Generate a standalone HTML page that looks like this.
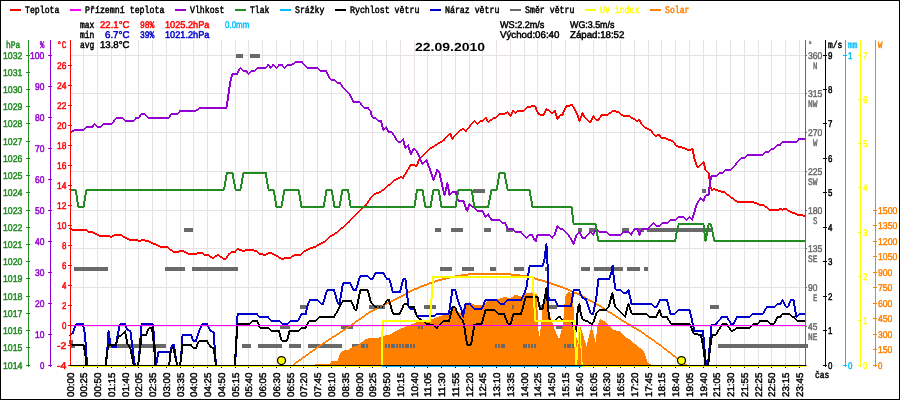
<!DOCTYPE html>
<html lang="cs"><head><meta charset="utf-8"><title>Meteo 22.09.2010</title>
<style>
html,body{margin:0;padding:0;background:#fff;}
body{width:900px;height:400px;overflow:hidden;font-family:"Liberation Mono",monospace;}
svg{display:block;will-change:transform;}
text{font-family:"Liberation Mono",monospace;text-rendering:geometricPrecision;}
.t{font-size:10px;font-weight:normal;stroke-width:0.5px;}
.g{font-size:10px;font-weight:normal;stroke-width:0.45px;}
.d{font-size:11.7px;font-weight:bold;}
.x{font-family:"Liberation Sans",sans-serif;font-size:9.6px;font-weight:normal;stroke:#000;stroke-width:0.45px;}
.s{font-family:"Liberation Sans",sans-serif;font-size:9.8px;}
</style></head><body>
<svg width="900" height="400" viewBox="0 0 900 400">
<rect x="0" y="0" width="900" height="400" fill="#ffffff"/>
<g shape-rendering="crispEdges" stroke="#e8e2e2" stroke-width="1">
<line x1="83.5" y1="40" x2="83.5" y2="365"/>
<line x1="97.5" y1="40" x2="97.5" y2="365"/>
<line x1="111.5" y1="40" x2="111.5" y2="365"/>
<line x1="125.5" y1="40" x2="125.5" y2="365"/>
<line x1="138.5" y1="40" x2="138.5" y2="365"/>
<line x1="152.5" y1="40" x2="152.5" y2="365"/>
<line x1="166.5" y1="40" x2="166.5" y2="365"/>
<line x1="180.5" y1="40" x2="180.5" y2="365"/>
<line x1="193.5" y1="40" x2="193.5" y2="365"/>
<line x1="207.5" y1="40" x2="207.5" y2="365"/>
<line x1="221.5" y1="40" x2="221.5" y2="365"/>
<line x1="235.5" y1="40" x2="235.5" y2="365"/>
<line x1="248.5" y1="40" x2="248.5" y2="365"/>
<line x1="262.5" y1="40" x2="262.5" y2="365"/>
<line x1="276.5" y1="40" x2="276.5" y2="365"/>
<line x1="290.5" y1="40" x2="290.5" y2="365"/>
<line x1="303.5" y1="40" x2="303.5" y2="365"/>
<line x1="317.5" y1="40" x2="317.5" y2="365"/>
<line x1="331.5" y1="40" x2="331.5" y2="365"/>
<line x1="345.5" y1="40" x2="345.5" y2="365"/>
<line x1="359.5" y1="40" x2="359.5" y2="365"/>
<line x1="372.5" y1="40" x2="372.5" y2="365"/>
<line x1="386.5" y1="40" x2="386.5" y2="365"/>
<line x1="400.5" y1="40" x2="400.5" y2="365"/>
<line x1="414.5" y1="40" x2="414.5" y2="365"/>
<line x1="427.5" y1="40" x2="427.5" y2="365"/>
<line x1="441.5" y1="40" x2="441.5" y2="365"/>
<line x1="455.5" y1="40" x2="455.5" y2="365"/>
<line x1="469.5" y1="40" x2="469.5" y2="365"/>
<line x1="482.5" y1="40" x2="482.5" y2="365"/>
<line x1="496.5" y1="40" x2="496.5" y2="365"/>
<line x1="510.5" y1="40" x2="510.5" y2="365"/>
<line x1="524.5" y1="40" x2="524.5" y2="365"/>
<line x1="537.5" y1="40" x2="537.5" y2="365"/>
<line x1="551.5" y1="40" x2="551.5" y2="365"/>
<line x1="565.5" y1="40" x2="565.5" y2="365"/>
<line x1="579.5" y1="40" x2="579.5" y2="365"/>
<line x1="593.5" y1="40" x2="593.5" y2="365"/>
<line x1="606.5" y1="40" x2="606.5" y2="365"/>
<line x1="620.5" y1="40" x2="620.5" y2="365"/>
<line x1="634.5" y1="40" x2="634.5" y2="365"/>
<line x1="648.5" y1="40" x2="648.5" y2="365"/>
<line x1="661.5" y1="40" x2="661.5" y2="365"/>
<line x1="675.5" y1="40" x2="675.5" y2="365"/>
<line x1="689.5" y1="40" x2="689.5" y2="365"/>
<line x1="703.5" y1="40" x2="703.5" y2="365"/>
<line x1="716.5" y1="40" x2="716.5" y2="365"/>
<line x1="730.5" y1="40" x2="730.5" y2="365"/>
<line x1="744.5" y1="40" x2="744.5" y2="365"/>
<line x1="758.5" y1="40" x2="758.5" y2="365"/>
<line x1="771.5" y1="40" x2="771.5" y2="365"/>
<line x1="785.5" y1="40" x2="785.5" y2="365"/>
<line x1="799.5" y1="40" x2="799.5" y2="365"/>
<line x1="71" y1="55.5" x2="805" y2="55.5"/>
<line x1="71" y1="93.5" x2="805" y2="93.5"/>
<line x1="71" y1="132.5" x2="805" y2="132.5"/>
<line x1="71" y1="171.5" x2="805" y2="171.5"/>
<line x1="71" y1="210.5" x2="805" y2="210.5"/>
<line x1="71" y1="248.5" x2="805" y2="248.5"/>
<line x1="71" y1="287.5" x2="805" y2="287.5"/>
<line x1="71" y1="326.5" x2="805" y2="326.5"/>
</g>
<g shape-rendering="crispEdges" stroke-linejoin="miter" stroke-linecap="butt">
<rect x="236" y="54" width="7" height="4" fill="#696969"/>
<rect x="250" y="54" width="10" height="4" fill="#696969"/>
<rect x="473" y="189" width="12" height="4" fill="#696969"/>
<rect x="702" y="189" width="4" height="4" fill="#696969"/>
<rect x="184" y="228" width="9" height="4" fill="#696969"/>
<rect x="435" y="228" width="6" height="4" fill="#696969"/>
<rect x="451" y="228" width="12" height="4" fill="#696969"/>
<rect x="484" y="228" width="7" height="4" fill="#696969"/>
<rect x="506" y="228" width="7" height="4" fill="#696969"/>
<rect x="578" y="228" width="4" height="4" fill="#696969"/>
<rect x="589" y="228" width="7" height="4" fill="#696969"/>
<rect x="622" y="228" width="7" height="4" fill="#696969"/>
<rect x="638" y="228" width="6" height="4" fill="#696969"/>
<rect x="647" y="228" width="56" height="4" fill="#696969"/>
<rect x="704" y="228" width="7" height="4" fill="#696969"/>
<rect x="74" y="267" width="34" height="4" fill="#696969"/>
<rect x="165" y="267" width="20" height="4" fill="#696969"/>
<rect x="192" y="267" width="46" height="4" fill="#696969"/>
<rect x="440" y="267" width="12" height="4" fill="#696969"/>
<rect x="462" y="267" width="12" height="4" fill="#696969"/>
<rect x="490" y="267" width="6" height="4" fill="#696969"/>
<rect x="514" y="267" width="10" height="4" fill="#696969"/>
<rect x="545" y="267" width="4" height="4" fill="#696969"/>
<rect x="581" y="267" width="9" height="4" fill="#696969"/>
<rect x="594" y="267" width="29" height="4" fill="#696969"/>
<rect x="627" y="267" width="13" height="4" fill="#696969"/>
<rect x="644" y="267" width="4" height="4" fill="#696969"/>
<rect x="300" y="305" width="8" height="4" fill="#696969"/>
<rect x="369" y="305" width="8" height="4" fill="#696969"/>
<rect x="377" y="305" width="8" height="4" fill="#696969"/>
<rect x="424" y="305" width="12" height="4" fill="#696969"/>
<rect x="512" y="305" width="2" height="4" fill="#696969"/>
<rect x="540" y="305" width="17" height="4" fill="#696969"/>
<rect x="710" y="305" width="9" height="4" fill="#696969"/>
<rect x="280" y="325" width="10" height="4" fill="#696969"/>
<rect x="341" y="325" width="12" height="4" fill="#696969"/>
<rect x="416" y="325" width="7" height="4" fill="#696969"/>
<rect x="556" y="325" width="7" height="4" fill="#696969"/>
<rect x="69" y="340" width="4" height="4" fill="#696969"/>
<rect x="71" y="344" width="4" height="4" fill="#696969"/>
<rect x="108" y="344" width="58" height="4" fill="#696969"/>
<rect x="242" y="344" width="9" height="4" fill="#696969"/>
<rect x="258" y="344" width="24" height="4" fill="#696969"/>
<rect x="289" y="344" width="12" height="4" fill="#696969"/>
<rect x="308" y="344" width="34" height="4" fill="#696969"/>
<rect x="352" y="344" width="8" height="4" fill="#696969"/>
<rect x="360" y="344" width="8" height="4" fill="#696969"/>
<rect x="385" y="344" width="24" height="4" fill="#696969"/>
<rect x="400" y="344" width="15" height="4" fill="#696969"/>
<rect x="495" y="344" width="10" height="4" fill="#696969"/>
<rect x="523" y="344" width="15" height="4" fill="#696969"/>
<rect x="564" y="344" width="12" height="4" fill="#696969"/>
<rect x="718" y="344" width="90" height="4" fill="#696969"/>
<polygon points="310,366 310,365 316.5,364.4 330,364 332,360.5 338,360.5 339,356 341,352 344,350.5 348,350 352,347.5 358,345 362,342 365,339.5 368,338.5 378,338 383,336 390,334.4 400,329 410,325 420,321 430,320 440,316 449,314 454,306 460,314 464,307 469,302 475,305 482,305 488,301 496,300 504,297 510,298 516,294.5 522,297 525,293 532,292.4 536.6,294 537.4,307 538.4,331 539.5,336 541.6,321 543.2,299 547,296 549,312 554.5,329 559,339.4 563,325 565,297 568,292 571.6,293 573,296 574.2,321 575.6,331 577.2,343 578.6,331 580.6,327 582,331 586.4,346 588.4,339 591.4,326 595.6,342 597.6,325 600,318.6 607,323 613,330 619,331 624,336 629,339 635,344 640,348 644,351 646,357 648,363 652,365 652,366" fill="#ff7f00" stroke="none"/>
<polyline points="70,366 805,366" fill="none" stroke="#00bfff" stroke-width="2" />
<path d="M293,364L300,359L300,361L293,366ZM300,359L318,346L318,348L300,361ZM318,346L350,325L350,327L318,348ZM350,325L370,311L370,313L350,327ZM370,311L394,299L394,301L370,313ZM394,299L400,296L400,298L394,301ZM400,296L410,290.5L410,292.5L400,298ZM410,290.5L420,286L420,288L410,292.5ZM420,286L430,282.3L430,284.3L420,288ZM430,282.3L440,279L440,281L430,284.3ZM440,279L450,276.5L450,278.5L440,281ZM450,276.5L460,274.6L460,276.6L450,278.5ZM460,274.6L470,273.3L470,275.3L460,276.6ZM470,273.3L480,272.6L480,274.6L470,275.3ZM480,272.6L490,272.5L490,274.5L480,274.6ZM490,272.5L500,272.7L500,274.7L490,274.5ZM500,272.7L510,273.4L510,275.4L500,274.7ZM510,273.4L520,274.5L520,276.5L510,275.4ZM520,274.5L530,276L530,278L520,276.5ZM530,276L540,279L540,281L530,278ZM540,279L550,282L550,284L540,281ZM550,282L560,285.4L560,287.4L550,284ZM560,285.4L570,289.5L570,291.5L560,287.4ZM570,289.5L580,294L580,296L570,291.5ZM580,294L600,305L600,307L580,296ZM600,305L620,318L620,320L600,307ZM620,318L640,330L640,332L620,320ZM640,330L660,344L660,346L640,332ZM660,344L678,358L678,360L660,346ZM678,358L686,364L686,366L678,360ZM293,364L294,365L293,366L292,365ZM300,359L301,360L300,361L299,360ZM318,346L319,347L318,348L317,347ZM350,325L351,326L350,327L349,326ZM370,311L371,312L370,313L369,312ZM394,299L395,300L394,301L393,300ZM400,296L401,297L400,298L399,297ZM410,290.5L411,291.5L410,292.5L409,291.5ZM420,286L421,287L420,288L419,287ZM430,282.3L431,283.3L430,284.3L429,283.3ZM440,279L441,280L440,281L439,280ZM450,276.5L451,277.5L450,278.5L449,277.5ZM460,274.6L461,275.6L460,276.6L459,275.6ZM470,273.3L471,274.3L470,275.3L469,274.3ZM480,272.6L481,273.6L480,274.6L479,273.6ZM490,272.5L491,273.5L490,274.5L489,273.5ZM500,272.7L501,273.7L500,274.7L499,273.7ZM510,273.4L511,274.4L510,275.4L509,274.4ZM520,274.5L521,275.5L520,276.5L519,275.5ZM530,276L531,277L530,278L529,277ZM540,279L541,280L540,281L539,280ZM550,282L551,283L550,284L549,283ZM560,285.4L561,286.4L560,287.4L559,286.4ZM570,289.5L571,290.5L570,291.5L569,290.5ZM580,294L581,295L580,296L579,295ZM600,305L601,306L600,307L599,306ZM620,318L621,319L620,320L619,319ZM640,330L641,331L640,332L639,331ZM660,344L661,345L660,346L659,345ZM678,358L679,359L678,360L677,359ZM686,364L687,365L686,366L685,365Z" fill="#ff7f00" fill-rule="nonzero" stroke="none"/>
<path d="M69.4,335.6L72,333L74,333L71.4,335.6ZM72,333L75,324L77,324L74,333ZM76,323L83,323L83,325L76,325ZM84,324L86,335L84,335L82,324ZM86,335L87.6,358L85.6,358L84,335ZM87.6,358L88.2,366L86.2,366L85.6,358ZM87.2,365L105.6,365L105.6,367L87.2,367ZM104.6,366L106,355L108,355L106.6,366ZM106,355L107.6,331L109.6,331L108,355ZM109.6,331L111.4,345L109.4,345L107.6,331ZM111.4,345L113,347L111,347L109.4,345ZM112,346L116,346L116,348L112,348ZM115,347L116.6,335L118.6,335L117,347ZM116.6,335L119,324L121,324L118.6,335ZM120,323L125,323L125,325L120,325ZM126,324L128.6,330L126.6,330L124,324ZM127.6,329L130.4,330L130.4,332L127.6,331ZM131.4,331L133.6,349L131.6,349L129.4,331ZM133.6,349L134.6,357L132.6,357L131.6,349ZM134.6,357L136,366L134,366L132.6,357ZM135,365L138,365L138,367L135,367ZM137,366L138,358L140,358L139,366ZM138,358L140.6,324L142.6,324L140,358ZM141.6,323L152.6,323L152.6,325L141.6,325ZM153.6,324L155,335L153,335L151.6,324ZM155,335L156.6,366L154.6,366L153,335ZM155.6,365L156,365L156,367L155.6,367ZM155,366L157.4,352L159.4,352L157,366ZM158.4,351L170.6,351L170.6,353L158.4,353ZM169.6,352L171,345L173,345L171.6,352ZM172,344L174,344L174,346L172,346ZM175,345L177,360L175,360L173,345ZM177,360L178.6,366L176.6,366L175,360ZM177.6,365L180,365L180,367L177.6,367ZM179,366L180,358L182,358L181,366ZM180,358L181.6,335L183.6,335L182,358ZM182.6,334L191,334L191,336L182.6,336ZM192,335L194.6,341L192.6,341L190,335ZM193.6,340L196,340L196,342L193.6,342ZM195,341L198,331L200,331L197,341ZM198,331L201.4,324L203.4,324L200,331ZM202.4,323L207,323L207,325L202.4,325ZM208,324L211.4,331L209.4,331L206,324ZM210.4,330L213.6,331L213.6,333L210.4,332ZM214.6,332L216,352L214,352L212.6,332ZM216,352L217,366L215,366L214,352ZM216,365L235,365L235,367L216,367ZM234,366L234.6,355L236.6,355L236,366ZM234.6,355L236.6,314L238.6,314L236.6,355ZM237.6,313L257,313L257,315L237.6,315ZM258,314L260.6,317L258.6,317L256,314ZM259.6,316L268,316L268,318L259.6,318ZM269,317L272,320.6L270,320.6L267,317ZM271,319.6L279,319.6L279,321.6L271,321.6ZM280,320.6L283,324L281,324L278,320.6ZM282,323L287,323L287,325L282,325ZM287,323L290,320L290,322L287,325ZM290,320L298,319.6L298,321.6L290,322ZM297,320.6L300.6,314L302.6,314L299,320.6ZM301.6,313L306,313L306,315L301.6,315ZM305,314L306,307L308,307L307,314ZM306,307L308.6,300.4L310.6,300.4L308,307ZM309.6,299.4L318,299.4L318,301.4L309.6,301.4ZM319,300.4L322,304L320,304L317,300.4ZM321,303L323,303L323,305L321,305ZM322,304L326,290L328,290L324,304ZM327,289L334,289L334,291L327,291ZM335,290L339,304L337,304L333,290ZM338,303L339.6,303L339.6,305L338,305ZM338.6,304L342,283L344,283L340.6,304ZM343,282L350,282L350,284L343,284ZM351,283L354.6,290L352.6,290L349,283ZM353.6,289L356,289L356,291L353.6,291ZM355,290L359,276L361,276L357,290ZM360,275L367,275L367,277L360,277ZM367,275L371,278.4L371,280.4L367,277ZM371,278.4L372.4,278.4L372.4,280.4L371,280.4ZM371.4,279.4L374.6,273L376.6,273L373.4,279.4ZM375.6,272L383.6,272L383.6,274L375.6,274ZM384.6,273L388,279.4L386,279.4L382.6,273ZM387,278.4L389.4,278.4L389.4,280.4L387,280.4ZM390.4,279.4L394,292.4L392,292.4L388.4,279.4ZM393,291.4L400,291.4L400,293.4L393,293.4ZM399,292.4L402.4,279L404.4,279L401,292.4ZM403.4,278L405.4,278L405.4,280L403.4,280ZM406.4,279L409.6,307L407.6,307L404.4,279ZM409.6,307L411,309L409,309L407.6,307ZM410,308L414,308L414,310L410,310ZM415,309L418,316.4L416,316.4L413,309ZM417,315.4L434,315.4L434,317.4L417,317.4ZM434,315.4L437,312.6L437,314.6L434,317.4ZM437,312.6L449,312.6L449,314.6L437,314.6ZM448,313.6L451.4,289.6L453.4,289.6L450,313.6ZM452.4,288.6L455,288.6L455,290.6L452.4,290.6ZM456,289.6L459.4,302L457.4,302L454,289.6ZM459.4,302L462,308L460,308L457.4,302ZM462,308L464,317L462,317L460,308ZM462,317L464.6,304L466.6,304L464,317ZM465.6,303L470,303L470,305L465.6,305ZM471,304L475,309L473,309L469,304ZM474,308L481.6,308L481.6,310L474,310ZM480.6,309L484.6,300L486.6,300L482.6,309ZM485.6,299L496,299L496,301L485.6,301ZM496,299L500,303L500,305L496,301ZM500,303L504,303L504,305L500,305ZM503,304L506,300L508,300L505,304ZM507,299L521,299L521,301L507,301ZM520,300L523.4,293L525.4,293L522,300ZM523.4,293L525.4,288L527.4,288L525.4,293ZM525.4,288L528.6,266L530.6,266L527.4,288ZM529.6,265L542.4,265L542.4,267L529.6,267ZM541.4,266L543.4,260L545.4,260L543.4,266ZM543.4,260L545.4,244.4L547.4,244.4L545.4,260ZM547.4,244.4L548.4,260L546.4,260L545.4,244.4ZM548.4,260L549.6,300L547.6,300L546.4,260ZM548.6,299L555,299L555,301L548.6,301ZM556,300L559,306.4L557,306.4L554,300ZM558,305.4L571,305.4L571,307.4L558,307.4ZM570,306.4L572.6,290L574.6,290L572,306.4ZM573.6,289L579,289L579,291L573.6,291ZM580,290L583.4,298L581.4,298L578,290ZM582.4,297L586,298L586,300L582.4,299ZM587,299L592,314L590,314L585,299ZM591,313L593,313L593,315L591,315ZM592,314L595,300L597,300L594,314ZM595,300L597.4,279L599.4,279L597,300ZM598.4,278L609,278L609,280L598.4,280ZM608,279L610.6,272L612.6,272L610,279ZM610.6,272L611.6,265.6L613.6,265.6L612.6,272ZM613.6,265.6L615,280L613,280L611.6,265.6ZM615,280L616.6,289.6L614.6,289.6L613,280ZM615.6,288.6L620,289L620,291L615.6,290.6ZM620,289L623.6,292L623.6,294L620,291ZM623.6,292L626.4,292L626.4,294L623.6,294ZM625.4,293L627.4,290L629.4,290L627.4,293ZM629.4,290L632.6,304L630.6,304L627.4,290ZM631.6,303L651,303L651,305L631.6,305ZM651,303L654,306L654,308L651,305ZM654,306L656.4,306L656.4,308L654,308ZM655.4,307L659,299.6L661,299.6L657.4,307ZM660,298.6L667,298.6L667,300.6L660,300.6ZM668,299.6L671.4,313.6L669.4,313.6L666,299.6ZM670.4,312.6L675,312.6L675,314.6L670.4,314.6ZM674,313.6L677,310L679,310L676,313.6ZM678,309L689.6,309L689.6,311L678,311ZM690.6,310L695.4,331L693.4,331L688.6,310ZM694.4,330L703,330L703,332L694.4,332ZM704,331L706,355L704,355L702,331ZM706,355L707,364L705,364L704,355ZM706,363L708,363L708,365L706,365ZM707,364L708.6,347L710.6,347L709,364ZM708.6,347L710.6,325L712.6,325L710.6,347ZM711.6,324L716,323.3L716,325.3L711.6,326ZM715,324.3L720.9,316.8L722.9,316.8L717,324.3ZM721.9,315.8L726.9,315.8L726.9,317.8L721.9,317.8ZM727.9,316.8L732.1,324.3L730.1,324.3L725.9,316.8ZM731.1,323.3L733.2,323.3L733.2,325.3L731.1,325.3ZM732.2,324.3L735.9,316.8L737.9,316.8L734.2,324.3ZM736.9,315.8L749.5,315.8L749.5,317.8L736.9,317.8ZM749.5,315.8L752.8,312.9L752.8,314.9L749.5,317.8ZM752.8,312.9L762.9,312.9L762.9,314.9L752.8,314.9ZM761.9,313.9L766.1,306.7L768.1,306.7L763.9,313.9ZM767.1,305.7L774.6,305.7L774.6,307.7L767.1,307.7ZM774.6,305.7L777.9,302.9L777.9,304.9L774.6,307.7ZM777.9,302.9L780.5,302.9L780.5,304.9L777.9,304.9ZM779.5,303.9L781.5,300L783.5,300L781.5,303.9ZM783.5,300L786.8,306.7L784.8,306.7L781.5,300ZM785.8,305.7L788,305.7L788,307.7L785.8,307.7ZM787,306.7L790.3,299.7L792.3,299.7L789,306.7ZM791.3,298.7L793.5,298.7L793.5,300.7L791.3,300.7ZM794.5,299.7L797.4,316.8L795.4,316.8L792.5,299.7ZM795.4,316.8L798.2,313.9L800.2,313.9L797.4,316.8ZM799.2,312.9L805,312.9L805,314.9L799.2,314.9ZM70.4,334.6L71.4,335.6L70.4,336.6L69.4,335.6ZM73,332L74,333L73,334L72,333ZM76,323L77,324L76,325L75,324ZM83,323L84,324L83,325L82,324ZM85,334L86,335L85,336L84,335ZM86.6,357L87.6,358L86.6,359L85.6,358ZM87.2,365L88.2,366L87.2,367L86.2,366ZM105.6,365L106.6,366L105.6,367L104.6,366ZM107,354L108,355L107,356L106,355ZM108.6,330L109.6,331L108.6,332L107.6,331ZM110.4,344L111.4,345L110.4,346L109.4,345ZM112,346L113,347L112,348L111,347ZM116,346L117,347L116,348L115,347ZM117.6,334L118.6,335L117.6,336L116.6,335ZM120,323L121,324L120,325L119,324ZM125,323L126,324L125,325L124,324ZM127.6,329L128.6,330L127.6,331L126.6,330ZM130.4,330L131.4,331L130.4,332L129.4,331ZM132.6,348L133.6,349L132.6,350L131.6,349ZM133.6,356L134.6,357L133.6,358L132.6,357ZM135,365L136,366L135,367L134,366ZM138,365L139,366L138,367L137,366ZM139,357L140,358L139,359L138,358ZM141.6,323L142.6,324L141.6,325L140.6,324ZM152.6,323L153.6,324L152.6,325L151.6,324ZM154,334L155,335L154,336L153,335ZM155.6,365L156.6,366L155.6,367L154.6,366ZM156,365L157,366L156,367L155,366ZM158.4,351L159.4,352L158.4,353L157.4,352ZM170.6,351L171.6,352L170.6,353L169.6,352ZM172,344L173,345L172,346L171,345ZM174,344L175,345L174,346L173,345ZM176,359L177,360L176,361L175,360ZM177.6,365L178.6,366L177.6,367L176.6,366ZM180,365L181,366L180,367L179,366ZM181,357L182,358L181,359L180,358ZM182.6,334L183.6,335L182.6,336L181.6,335ZM191,334L192,335L191,336L190,335ZM193.6,340L194.6,341L193.6,342L192.6,341ZM196,340L197,341L196,342L195,341ZM199,330L200,331L199,332L198,331ZM202.4,323L203.4,324L202.4,325L201.4,324ZM207,323L208,324L207,325L206,324ZM210.4,330L211.4,331L210.4,332L209.4,331ZM213.6,331L214.6,332L213.6,333L212.6,332ZM215,351L216,352L215,353L214,352ZM216,365L217,366L216,367L215,366ZM235,365L236,366L235,367L234,366ZM235.6,354L236.6,355L235.6,356L234.6,355ZM237.6,313L238.6,314L237.6,315L236.6,314ZM257,313L258,314L257,315L256,314ZM259.6,316L260.6,317L259.6,318L258.6,317ZM268,316L269,317L268,318L267,317ZM271,319.6L272,320.6L271,321.6L270,320.6ZM279,319.6L280,320.6L279,321.6L278,320.6ZM282,323L283,324L282,325L281,324ZM287,323L288,324L287,325L286,324ZM290,320L291,321L290,322L289,321ZM298,319.6L299,320.6L298,321.6L297,320.6ZM301.6,313L302.6,314L301.6,315L300.6,314ZM306,313L307,314L306,315L305,314ZM307,306L308,307L307,308L306,307ZM309.6,299.4L310.6,300.4L309.6,301.4L308.6,300.4ZM318,299.4L319,300.4L318,301.4L317,300.4ZM321,303L322,304L321,305L320,304ZM323,303L324,304L323,305L322,304ZM327,289L328,290L327,291L326,290ZM334,289L335,290L334,291L333,290ZM338,303L339,304L338,305L337,304ZM339.6,303L340.6,304L339.6,305L338.6,304ZM343,282L344,283L343,284L342,283ZM350,282L351,283L350,284L349,283ZM353.6,289L354.6,290L353.6,291L352.6,290ZM356,289L357,290L356,291L355,290ZM360,275L361,276L360,277L359,276ZM367,275L368,276L367,277L366,276ZM371,278.4L372,279.4L371,280.4L370,279.4ZM372.4,278.4L373.4,279.4L372.4,280.4L371.4,279.4ZM375.6,272L376.6,273L375.6,274L374.6,273ZM383.6,272L384.6,273L383.6,274L382.6,273ZM387,278.4L388,279.4L387,280.4L386,279.4ZM389.4,278.4L390.4,279.4L389.4,280.4L388.4,279.4ZM393,291.4L394,292.4L393,293.4L392,292.4ZM400,291.4L401,292.4L400,293.4L399,292.4ZM403.4,278L404.4,279L403.4,280L402.4,279ZM405.4,278L406.4,279L405.4,280L404.4,279ZM408.6,306L409.6,307L408.6,308L407.6,307ZM410,308L411,309L410,310L409,309ZM414,308L415,309L414,310L413,309ZM417,315.4L418,316.4L417,317.4L416,316.4ZM434,315.4L435,316.4L434,317.4L433,316.4ZM437,312.6L438,313.6L437,314.6L436,313.6ZM449,312.6L450,313.6L449,314.6L448,313.6ZM452.4,288.6L453.4,289.6L452.4,290.6L451.4,289.6ZM455,288.6L456,289.6L455,290.6L454,289.6ZM458.4,301L459.4,302L458.4,303L457.4,302ZM461,307L462,308L461,309L460,308ZM463,316L464,317L463,318L462,317ZM465.6,303L466.6,304L465.6,305L464.6,304ZM470,303L471,304L470,305L469,304ZM474,308L475,309L474,310L473,309ZM481.6,308L482.6,309L481.6,310L480.6,309ZM485.6,299L486.6,300L485.6,301L484.6,300ZM496,299L497,300L496,301L495,300ZM500,303L501,304L500,305L499,304ZM504,303L505,304L504,305L503,304ZM507,299L508,300L507,301L506,300ZM521,299L522,300L521,301L520,300ZM524.4,292L525.4,293L524.4,294L523.4,293ZM526.4,287L527.4,288L526.4,289L525.4,288ZM529.6,265L530.6,266L529.6,267L528.6,266ZM542.4,265L543.4,266L542.4,267L541.4,266ZM544.4,259L545.4,260L544.4,261L543.4,260ZM546.4,243.4L547.4,244.4L546.4,245.4L545.4,244.4ZM547.4,259L548.4,260L547.4,261L546.4,260ZM548.6,299L549.6,300L548.6,301L547.6,300ZM555,299L556,300L555,301L554,300ZM558,305.4L559,306.4L558,307.4L557,306.4ZM571,305.4L572,306.4L571,307.4L570,306.4ZM573.6,289L574.6,290L573.6,291L572.6,290ZM579,289L580,290L579,291L578,290ZM582.4,297L583.4,298L582.4,299L581.4,298ZM586,298L587,299L586,300L585,299ZM591,313L592,314L591,315L590,314ZM593,313L594,314L593,315L592,314ZM596,299L597,300L596,301L595,300ZM598.4,278L599.4,279L598.4,280L597.4,279ZM609,278L610,279L609,280L608,279ZM611.6,271L612.6,272L611.6,273L610.6,272ZM612.6,264.6L613.6,265.6L612.6,266.6L611.6,265.6ZM614,279L615,280L614,281L613,280ZM615.6,288.6L616.6,289.6L615.6,290.6L614.6,289.6ZM620,289L621,290L620,291L619,290ZM623.6,292L624.6,293L623.6,294L622.6,293ZM626.4,292L627.4,293L626.4,294L625.4,293ZM628.4,289L629.4,290L628.4,291L627.4,290ZM631.6,303L632.6,304L631.6,305L630.6,304ZM651,303L652,304L651,305L650,304ZM654,306L655,307L654,308L653,307ZM656.4,306L657.4,307L656.4,308L655.4,307ZM660,298.6L661,299.6L660,300.6L659,299.6ZM667,298.6L668,299.6L667,300.6L666,299.6ZM670.4,312.6L671.4,313.6L670.4,314.6L669.4,313.6ZM675,312.6L676,313.6L675,314.6L674,313.6ZM678,309L679,310L678,311L677,310ZM689.6,309L690.6,310L689.6,311L688.6,310ZM694.4,330L695.4,331L694.4,332L693.4,331ZM703,330L704,331L703,332L702,331ZM705,354L706,355L705,356L704,355ZM706,363L707,364L706,365L705,364ZM708,363L709,364L708,365L707,364ZM709.6,346L710.6,347L709.6,348L708.6,347ZM711.6,324L712.6,325L711.6,326L710.6,325ZM716,323.3L717,324.3L716,325.3L715,324.3ZM721.9,315.8L722.9,316.8L721.9,317.8L720.9,316.8ZM726.9,315.8L727.9,316.8L726.9,317.8L725.9,316.8ZM731.1,323.3L732.1,324.3L731.1,325.3L730.1,324.3ZM733.2,323.3L734.2,324.3L733.2,325.3L732.2,324.3ZM736.9,315.8L737.9,316.8L736.9,317.8L735.9,316.8ZM749.5,315.8L750.5,316.8L749.5,317.8L748.5,316.8ZM752.8,312.9L753.8,313.9L752.8,314.9L751.8,313.9ZM762.9,312.9L763.9,313.9L762.9,314.9L761.9,313.9ZM767.1,305.7L768.1,306.7L767.1,307.7L766.1,306.7ZM774.6,305.7L775.6,306.7L774.6,307.7L773.6,306.7ZM777.9,302.9L778.9,303.9L777.9,304.9L776.9,303.9ZM780.5,302.9L781.5,303.9L780.5,304.9L779.5,303.9ZM782.5,299L783.5,300L782.5,301L781.5,300ZM785.8,305.7L786.8,306.7L785.8,307.7L784.8,306.7ZM788,305.7L789,306.7L788,307.7L787,306.7ZM791.3,298.7L792.3,299.7L791.3,300.7L790.3,299.7ZM793.5,298.7L794.5,299.7L793.5,300.7L792.5,299.7ZM796.4,315.8L797.4,316.8L796.4,317.8L795.4,316.8ZM799.2,312.9L800.2,313.9L799.2,314.9L798.2,313.9ZM805,312.9L806,313.9L805,314.9L804,313.9Z" fill="#0000cd" fill-rule="nonzero" stroke="none"/>
<path d="M70.4,344L83.6,344L83.6,346L70.4,346ZM84.6,345L86,352L84,352L82.6,345ZM86,352L87.6,366L85.6,366L84,352ZM86.6,365L105.6,365L105.6,367L86.6,367ZM104.6,366L106,352L108,352L106.6,366ZM106,352L107.6,345L109.6,345L108,352ZM108.6,344L115.6,344L115.6,346L108.6,346ZM114.6,345L117,337L119,337L116.6,345ZM118,336L121.6,334L121.6,336L118,338ZM120.6,335L124,331L126,331L122.6,335ZM126,331L128.6,344L126.6,344L124,331ZM128.6,344L131.4,348L129.4,348L126.6,344ZM131.4,348L134,362L132,362L129.4,348ZM134,362L135,366L133,366L132,362ZM134,365L138,365L138,367L134,367ZM137,366L138,358L140,358L139,366ZM138,358L140.6,335L142.6,335L140,358ZM141.6,334L146,334L146,336L141.6,336ZM145,335L148,328L150,328L147,335ZM149,327L152,326.6L152,328.6L149,329ZM153,327.6L155,345L153,345L151,327.6ZM155,345L156.6,366L154.6,366L153,345ZM155.6,365L169,365L169,367L155.6,367ZM168,366L170,349L172,349L170,366ZM171,348L173,346L173,348L171,350ZM174,347L176.6,358L174.6,358L172,347ZM176.6,358L178.6,366L176.6,366L174.6,358ZM177.6,365L180,365L180,367L177.6,367ZM179,366L180,358L182,358L181,366ZM180,358L181.6,345L183.6,345L182,358ZM182.6,344L191,344L191,346L182.6,346ZM192,345L194.6,348L192.6,348L190,345ZM193.6,347L196,347L196,349L193.6,349ZM195,348L198,341L200,341L197,348ZM199,340L207,340L207,342L199,342ZM208,341L211.4,347L209.4,347L206,341ZM210.4,346L213.6,347L213.6,349L210.4,348ZM214.6,348L216,358L214,358L212.6,348ZM216,358L217,366L215,366L214,358ZM216,365L235,365L235,367L216,367ZM234,366L234.6,352L236.6,352L236,366ZM234.6,352L236.6,324.4L238.6,324.4L236.6,352ZM237.6,323.4L249,323L249,325L237.6,325.4ZM249,323L252,320L252,322L249,325ZM252,320L257,320L257,322L252,322ZM258,321L261,327.6L259,327.6L256,321ZM260,326.6L268,326.6L268,328.6L260,328.6ZM269,327.6L272,331L270,331L267,327.6ZM271,330L279,330L279,332L271,332ZM280,331L282.6,340.6L280.6,340.6L278,331ZM281.6,339.6L287,339.6L287,341.6L281.6,341.6ZM286,340.6L288.6,331L290.6,331L288,340.6ZM289.6,330L298,330L298,332L289.6,332ZM298,330L301,327L301,329L298,332ZM301,327L306,326.6L306,328.6L301,329ZM305,327.6L308,321L310,321L307,327.6ZM309,320L316,319.6L316,321.6L309,322ZM316,319.6L320,316L320,318L316,321.6ZM320,316L334,316L334,318L320,318ZM333,317L338.6,307L340.6,307L335,317ZM338.6,307L342,300.6L344,300.6L340.6,307ZM343,299.6L351,299.6L351,301.6L343,301.6ZM352,300.6L356,310L354,310L350,300.6ZM355,309L356.4,309L356.4,311L355,311ZM355.4,310L359.4,290L361.4,290L357.4,310ZM360.4,289L367.6,289L367.6,291L360.4,291ZM368.6,290L372,303L370,303L366.6,290ZM371,302L375.6,306L375.6,308L371,304ZM375.6,306L383,306L383,308L375.6,308ZM382,307L386,300L388,300L384,307ZM387,299L389,299L389,301L387,301ZM390,300L394,313.6L392,313.6L388,300ZM393,312.6L400,312.6L400,314.6L393,314.6ZM399,313.6L403,304L405,304L401,313.6ZM404,303L406,303L406,305L404,305ZM406,303L409,306L409,308L406,305ZM409,306L414,306L414,308L409,308ZM415,307L418,317L416,317L413,307ZM417,316L423,320L423,322L417,318ZM423,320L426,323L426,325L423,322ZM426,323L433,324L433,326L426,325ZM433,324L437,327L437,329L433,326ZM436,328L439,324L441,324L438,328ZM440,323L443,320L443,322L440,325ZM443,320L449,320L449,322L443,322ZM448,321L451.4,307.4L453.4,307.4L450,321ZM452.4,306.4L455,306.4L455,308.4L452.4,308.4ZM456,307.4L459,314L457,314L454,307.4ZM459,314L464,321L462,321L457,314ZM464,321L465,325L463,325L462,321ZM465,325L468,344.6L466,344.6L463,325ZM467,343.6L471,343.6L471,345.6L467,345.6ZM470,344.6L473.4,324.6L475.4,324.6L472,344.6ZM474.4,323.6L481.6,323L481.6,325L474.4,325.6ZM480.6,324L484.6,310L486.6,310L482.6,324ZM485.6,309L494,309L494,311L485.6,311ZM494,309L498,313L498,315L494,311ZM498,313L504,313L504,315L498,315ZM505,314L509,324L507,324L503,314ZM508,323L510.4,323L510.4,325L508,325ZM509.4,324L512.6,314L514.6,314L511.4,324ZM513.6,313L521,313L521,315L513.6,315ZM520,314L524.6,297.4L526.6,297.4L522,314ZM525.6,296.4L537.6,296L537.6,298L525.6,298.4ZM538.6,297L541,309.4L539,309.4L536.6,297ZM540,308.4L542.4,308.4L542.4,310.4L540,310.4ZM541.4,309.4L544,297L546,297L543.4,309.4ZM544,297L545.4,288L547.4,288L546,297ZM547.4,288L549,307L547,307L545.4,288ZM549,307L550,317L548,317L547,307ZM550,317L551,321L549,321L548,317ZM550,320L555,320L555,322L550,322ZM554,321L557,317L559,317L556,321ZM558,316L560,316L560,318L558,318ZM561,317L564,321L562,321L559,317ZM563,320L572,320L572,322L563,322ZM573,321L575.4,330L573.4,330L571,321ZM574.4,329L576,330L576,332L574.4,331ZM575,331L577,307L579,307L577,331ZM577,307L578.4,304L580.4,304L579,307ZM580.4,304L582,315L580,315L578.4,304ZM582,315L584,320L582,320L580,315ZM583,319L587,320L587,322L583,321ZM587,320L592,323L592,325L587,322ZM591,324L593,321L595,321L593,324ZM593,321L595,314L597,314L595,321ZM595,314L598,310L600,310L597,314ZM599,309L606,309L606,311L599,311ZM605,310L608,306L610,306L607,310ZM608,306L611.4,293L613.4,293L610,306ZM613.4,293L616,306L614,306L611.4,293ZM616,306L619,310L617,310L614,306ZM618,309L625,316L625,318L618,311ZM624,317L627.4,304L629.4,304L626,317ZM629.4,304L632.6,313.6L630.6,313.6L627.4,304ZM631.6,312.6L646,312.6L646,314.6L631.6,314.6ZM647,313.6L650,317L648,317L645,313.6ZM649,316L656,316L656,318L649,318ZM655,317L658.4,310L660.4,310L657,317ZM660.4,310L663,317L661,317L658.4,310ZM662,316L667,316L667,318L662,318ZM668,317L672,324L670,324L666,317ZM671,323L689.6,323L689.6,325L671,325ZM690.6,324L695,334L693,334L688.6,324ZM694,333L701,334L701,336L694,335ZM702,335L704,345L702,345L700,335ZM704,345L706.6,366L704.6,366L702,345ZM705.6,365L708,365L708,367L705.6,367ZM707,366L709,349L711,349L709,366ZM709,349L711,335L713,335L711,349ZM712,334L716,333.9L716,335.9L712,336ZM715,334.9L720.9,324.3L722.9,324.3L717,334.9ZM721.9,323.3L726.9,323.3L726.9,325.3L721.9,325.3ZM727.9,324.3L732.1,330.7L730.1,330.7L725.9,324.3ZM731.1,329.7L733.2,329.7L733.2,331.7L731.1,331.7ZM733.2,329.7L736.9,326.7L736.9,328.7L733.2,331.7ZM736.9,326.7L749.5,326.7L749.5,328.7L736.9,328.7ZM748.5,327.7L751.8,324.3L753.8,324.3L750.5,327.7ZM752.8,323.3L757,323.3L757,325.3L752.8,325.3ZM756,324.3L759.4,320.6L761.4,320.6L758,324.3ZM760.4,319.6L767.1,319.6L767.1,321.6L760.4,321.6ZM768.1,320.6L771.4,324L769.4,324L766.1,320.6ZM770.4,323L773.8,323L773.8,325L770.4,325ZM772.8,324L776.9,316.8L778.9,316.8L774.8,324ZM777.9,315.8L780.5,315.8L780.5,317.8L777.9,317.8ZM779.5,316.8L781.5,313.9L783.5,313.9L781.5,316.8ZM782.5,312.9L788.8,312.9L788.8,314.9L782.5,314.9ZM788.8,312.9L792.2,315.8L792.2,317.8L788.8,314.9ZM792.2,315.8L793.8,315.8L793.8,317.8L792.2,317.8ZM794.8,316.8L797.7,320.6L795.7,320.6L792.8,316.8ZM796.7,319.6L805,319.6L805,321.6L796.7,321.6ZM70.4,344L71.4,345L70.4,346L69.4,345ZM83.6,344L84.6,345L83.6,346L82.6,345ZM85,351L86,352L85,353L84,352ZM86.6,365L87.6,366L86.6,367L85.6,366ZM105.6,365L106.6,366L105.6,367L104.6,366ZM107,351L108,352L107,353L106,352ZM108.6,344L109.6,345L108.6,346L107.6,345ZM115.6,344L116.6,345L115.6,346L114.6,345ZM118,336L119,337L118,338L117,337ZM121.6,334L122.6,335L121.6,336L120.6,335ZM125,330L126,331L125,332L124,331ZM127.6,343L128.6,344L127.6,345L126.6,344ZM130.4,347L131.4,348L130.4,349L129.4,348ZM133,361L134,362L133,363L132,362ZM134,365L135,366L134,367L133,366ZM138,365L139,366L138,367L137,366ZM139,357L140,358L139,359L138,358ZM141.6,334L142.6,335L141.6,336L140.6,335ZM146,334L147,335L146,336L145,335ZM149,327L150,328L149,329L148,328ZM152,326.6L153,327.6L152,328.6L151,327.6ZM154,344L155,345L154,346L153,345ZM155.6,365L156.6,366L155.6,367L154.6,366ZM169,365L170,366L169,367L168,366ZM171,348L172,349L171,350L170,349ZM173,346L174,347L173,348L172,347ZM175.6,357L176.6,358L175.6,359L174.6,358ZM177.6,365L178.6,366L177.6,367L176.6,366ZM180,365L181,366L180,367L179,366ZM181,357L182,358L181,359L180,358ZM182.6,344L183.6,345L182.6,346L181.6,345ZM191,344L192,345L191,346L190,345ZM193.6,347L194.6,348L193.6,349L192.6,348ZM196,347L197,348L196,349L195,348ZM199,340L200,341L199,342L198,341ZM207,340L208,341L207,342L206,341ZM210.4,346L211.4,347L210.4,348L209.4,347ZM213.6,347L214.6,348L213.6,349L212.6,348ZM215,357L216,358L215,359L214,358ZM216,365L217,366L216,367L215,366ZM235,365L236,366L235,367L234,366ZM235.6,351L236.6,352L235.6,353L234.6,352ZM237.6,323.4L238.6,324.4L237.6,325.4L236.6,324.4ZM249,323L250,324L249,325L248,324ZM252,320L253,321L252,322L251,321ZM257,320L258,321L257,322L256,321ZM260,326.6L261,327.6L260,328.6L259,327.6ZM268,326.6L269,327.6L268,328.6L267,327.6ZM271,330L272,331L271,332L270,331ZM279,330L280,331L279,332L278,331ZM281.6,339.6L282.6,340.6L281.6,341.6L280.6,340.6ZM287,339.6L288,340.6L287,341.6L286,340.6ZM289.6,330L290.6,331L289.6,332L288.6,331ZM298,330L299,331L298,332L297,331ZM301,327L302,328L301,329L300,328ZM306,326.6L307,327.6L306,328.6L305,327.6ZM309,320L310,321L309,322L308,321ZM316,319.6L317,320.6L316,321.6L315,320.6ZM320,316L321,317L320,318L319,317ZM334,316L335,317L334,318L333,317ZM339.6,306L340.6,307L339.6,308L338.6,307ZM343,299.6L344,300.6L343,301.6L342,300.6ZM351,299.6L352,300.6L351,301.6L350,300.6ZM355,309L356,310L355,311L354,310ZM356.4,309L357.4,310L356.4,311L355.4,310ZM360.4,289L361.4,290L360.4,291L359.4,290ZM367.6,289L368.6,290L367.6,291L366.6,290ZM371,302L372,303L371,304L370,303ZM375.6,306L376.6,307L375.6,308L374.6,307ZM383,306L384,307L383,308L382,307ZM387,299L388,300L387,301L386,300ZM389,299L390,300L389,301L388,300ZM393,312.6L394,313.6L393,314.6L392,313.6ZM400,312.6L401,313.6L400,314.6L399,313.6ZM404,303L405,304L404,305L403,304ZM406,303L407,304L406,305L405,304ZM409,306L410,307L409,308L408,307ZM414,306L415,307L414,308L413,307ZM417,316L418,317L417,318L416,317ZM423,320L424,321L423,322L422,321ZM426,323L427,324L426,325L425,324ZM433,324L434,325L433,326L432,325ZM437,327L438,328L437,329L436,328ZM440,323L441,324L440,325L439,324ZM443,320L444,321L443,322L442,321ZM449,320L450,321L449,322L448,321ZM452.4,306.4L453.4,307.4L452.4,308.4L451.4,307.4ZM455,306.4L456,307.4L455,308.4L454,307.4ZM458,313L459,314L458,315L457,314ZM463,320L464,321L463,322L462,321ZM464,324L465,325L464,326L463,325ZM467,343.6L468,344.6L467,345.6L466,344.6ZM471,343.6L472,344.6L471,345.6L470,344.6ZM474.4,323.6L475.4,324.6L474.4,325.6L473.4,324.6ZM481.6,323L482.6,324L481.6,325L480.6,324ZM485.6,309L486.6,310L485.6,311L484.6,310ZM494,309L495,310L494,311L493,310ZM498,313L499,314L498,315L497,314ZM504,313L505,314L504,315L503,314ZM508,323L509,324L508,325L507,324ZM510.4,323L511.4,324L510.4,325L509.4,324ZM513.6,313L514.6,314L513.6,315L512.6,314ZM521,313L522,314L521,315L520,314ZM525.6,296.4L526.6,297.4L525.6,298.4L524.6,297.4ZM537.6,296L538.6,297L537.6,298L536.6,297ZM540,308.4L541,309.4L540,310.4L539,309.4ZM542.4,308.4L543.4,309.4L542.4,310.4L541.4,309.4ZM545,296L546,297L545,298L544,297ZM546.4,287L547.4,288L546.4,289L545.4,288ZM548,306L549,307L548,308L547,307ZM549,316L550,317L549,318L548,317ZM550,320L551,321L550,322L549,321ZM555,320L556,321L555,322L554,321ZM558,316L559,317L558,318L557,317ZM560,316L561,317L560,318L559,317ZM563,320L564,321L563,322L562,321ZM572,320L573,321L572,322L571,321ZM574.4,329L575.4,330L574.4,331L573.4,330ZM576,330L577,331L576,332L575,331ZM578,306L579,307L578,308L577,307ZM579.4,303L580.4,304L579.4,305L578.4,304ZM581,314L582,315L581,316L580,315ZM583,319L584,320L583,321L582,320ZM587,320L588,321L587,322L586,321ZM592,323L593,324L592,325L591,324ZM594,320L595,321L594,322L593,321ZM596,313L597,314L596,315L595,314ZM599,309L600,310L599,311L598,310ZM606,309L607,310L606,311L605,310ZM609,305L610,306L609,307L608,306ZM612.4,292L613.4,293L612.4,294L611.4,293ZM615,305L616,306L615,307L614,306ZM618,309L619,310L618,311L617,310ZM625,316L626,317L625,318L624,317ZM628.4,303L629.4,304L628.4,305L627.4,304ZM631.6,312.6L632.6,313.6L631.6,314.6L630.6,313.6ZM646,312.6L647,313.6L646,314.6L645,313.6ZM649,316L650,317L649,318L648,317ZM656,316L657,317L656,318L655,317ZM659.4,309L660.4,310L659.4,311L658.4,310ZM662,316L663,317L662,318L661,317ZM667,316L668,317L667,318L666,317ZM671,323L672,324L671,325L670,324ZM689.6,323L690.6,324L689.6,325L688.6,324ZM694,333L695,334L694,335L693,334ZM701,334L702,335L701,336L700,335ZM703,344L704,345L703,346L702,345ZM705.6,365L706.6,366L705.6,367L704.6,366ZM708,365L709,366L708,367L707,366ZM710,348L711,349L710,350L709,349ZM712,334L713,335L712,336L711,335ZM716,333.9L717,334.9L716,335.9L715,334.9ZM721.9,323.3L722.9,324.3L721.9,325.3L720.9,324.3ZM726.9,323.3L727.9,324.3L726.9,325.3L725.9,324.3ZM731.1,329.7L732.1,330.7L731.1,331.7L730.1,330.7ZM733.2,329.7L734.2,330.7L733.2,331.7L732.2,330.7ZM736.9,326.7L737.9,327.7L736.9,328.7L735.9,327.7ZM749.5,326.7L750.5,327.7L749.5,328.7L748.5,327.7ZM752.8,323.3L753.8,324.3L752.8,325.3L751.8,324.3ZM757,323.3L758,324.3L757,325.3L756,324.3ZM760.4,319.6L761.4,320.6L760.4,321.6L759.4,320.6ZM767.1,319.6L768.1,320.6L767.1,321.6L766.1,320.6ZM770.4,323L771.4,324L770.4,325L769.4,324ZM773.8,323L774.8,324L773.8,325L772.8,324ZM777.9,315.8L778.9,316.8L777.9,317.8L776.9,316.8ZM780.5,315.8L781.5,316.8L780.5,317.8L779.5,316.8ZM782.5,312.9L783.5,313.9L782.5,314.9L781.5,313.9ZM788.8,312.9L789.8,313.9L788.8,314.9L787.8,313.9ZM792.2,315.8L793.2,316.8L792.2,317.8L791.2,316.8ZM793.8,315.8L794.8,316.8L793.8,317.8L792.8,316.8ZM796.7,319.6L797.7,320.6L796.7,321.6L795.7,320.6ZM805,319.6L806,320.6L805,321.6L804,320.6Z" fill="#000000" fill-rule="nonzero" stroke="none"/>
<rect x="377" y="305" width="2" height="4" fill="#696969"/>
<rect x="380" y="305" width="2" height="4" fill="#696969"/>
<rect x="383" y="305" width="2" height="4" fill="#696969"/>
<rect x="512" y="305" width="2" height="4" fill="#696969"/>
<rect x="418" y="325" width="2" height="4" fill="#696969"/>
<rect x="421" y="325" width="2" height="4" fill="#696969"/>
<rect x="361" y="344" width="2" height="4" fill="#696969"/>
<rect x="363" y="344" width="2" height="4" fill="#696969"/>
<rect x="366" y="344" width="2" height="4" fill="#696969"/>
<rect x="385" y="344" width="2" height="4" fill="#696969"/>
<rect x="388" y="344" width="2" height="4" fill="#696969"/>
<rect x="391" y="344" width="2" height="4" fill="#696969"/>
<rect x="393" y="344" width="2" height="4" fill="#696969"/>
<rect x="396" y="344" width="2" height="4" fill="#696969"/>
<rect x="399" y="344" width="2" height="4" fill="#696969"/>
<rect x="402" y="344" width="2" height="4" fill="#696969"/>
<rect x="405" y="344" width="2" height="4" fill="#696969"/>
<rect x="407" y="344" width="2" height="4" fill="#696969"/>
<rect x="402" y="344" width="2" height="4" fill="#696969"/>
<rect x="405" y="344" width="2" height="4" fill="#696969"/>
<rect x="407" y="344" width="2" height="4" fill="#696969"/>
<rect x="410" y="344" width="2" height="4" fill="#696969"/>
<rect x="413" y="344" width="2" height="4" fill="#696969"/>
<rect x="495" y="344" width="2" height="4" fill="#696969"/>
<rect x="498" y="344" width="2" height="4" fill="#696969"/>
<rect x="501" y="344" width="2" height="4" fill="#696969"/>
<rect x="503" y="344" width="2" height="4" fill="#696969"/>
<rect x="523" y="344" width="2" height="4" fill="#696969"/>
<rect x="525" y="344" width="2" height="4" fill="#696969"/>
<rect x="528" y="344" width="2" height="4" fill="#696969"/>
<rect x="531" y="344" width="2" height="4" fill="#696969"/>
<rect x="534" y="344" width="2" height="4" fill="#696969"/>
<rect x="564" y="344" width="2" height="4" fill="#696969"/>
<rect x="567" y="344" width="2" height="4" fill="#696969"/>
<rect x="569" y="344" width="2" height="4" fill="#696969"/>
<rect x="572" y="344" width="2" height="4" fill="#696969"/>
<path d="M70,227.6L73,229L73,231L70,229.6ZM73,229L86,229L86,231L73,231ZM86,229L89,231L89,233L86,231ZM89,231L92,231L92,233L89,233ZM92,231L100,235L100,237L92,233ZM100,235L108,235L108,237L100,237ZM108,235L111.6,236L111.6,238L108,237ZM111.6,236L116,233.6L116,235.6L111.6,238ZM116,233.6L120,233.6L120,235.6L116,235.6ZM120,233.6L128,238.4L128,240.4L120,235.6ZM128,238.4L136,239L136,241L128,240.4ZM136,239L139,240L139,242L136,241ZM139,240L142,239L142,241L139,242ZM142,239L149,240.4L149,242.4L142,241ZM149,240.4L160,245.6L160,247.6L149,242.4ZM160,245.6L167,246L167,248L160,247.6ZM167,246L174,251L174,253L167,248ZM174,251L177.4,251L177.4,253L174,253ZM177.4,251L180,250L180,252L177.4,253ZM180,250L183,250L183,252L180,252ZM183,250L189,253L189,255L183,252ZM189,253L195,253L195,255L189,255ZM195,253L200,251.6L200,253.6L195,255ZM200,251.6L202.4,252L202.4,254L200,253.6ZM202.4,252L204.4,253.6L204.4,255.6L202.4,254ZM204.4,253.6L208,254L208,256L204.4,255.6ZM208,254L213,257L213,259L208,256ZM213,257L218,253.6L218,255.6L213,259ZM218,253.6L223,257.6L223,259.6L218,255.6ZM223,257.6L226,257.6L226,259.6L223,259.6ZM225,258.6L228.4,253.6L230.4,253.6L227,258.6ZM229.4,252.6L232.4,251L232.4,253L229.4,254.6ZM232.4,251L235,251L235,253L232.4,253ZM234,252L236.6,248.6L238.6,248.6L236,252ZM237.6,247.6L240,249L240,251L237.6,249.6ZM240,249L243,250L243,252L240,251ZM243,250L247,249L247,251L243,252ZM247,249L252,249L252,251L247,251ZM252,249L257,250.4L257,252.4L252,251ZM257,250.4L260,253L260,255L257,252.4ZM260,253L265,254L265,256L260,255ZM265,254L269,252L269,254L265,256ZM269,252L272,252.4L272,254.4L269,254ZM272,252.4L277,255L277,257L272,254.4ZM277,255L282,258L282,260L277,257ZM282,258L285,257L285,259L282,260ZM285,257L290,257L290,259L285,259ZM290,257L294,254.4L294,256.4L290,259ZM294,254.4L300,254L300,256L294,256.4ZM300,254L305,250L305,252L300,256ZM305,250L310,247.6L310,249.6L305,252ZM310,247.6L315,246L315,248L310,249.6ZM315,246L320,243L320,245L315,248ZM320,243L325,240.6L325,242.6L320,245ZM325,240.6L331,235L331,237L325,242.6ZM331,235L337,231.6L337,233.6L331,237ZM337,231.6L342,227L342,229L337,233.6ZM342,227L349,221L349,223L342,229ZM348,222L355,214L357,214L350,222ZM356,213L361,208L361,210L356,215ZM361,208L366,204L366,206L361,210ZM365,205L369,199L371,199L367,205ZM369,199L372,195L374,195L371,199ZM373,194L380,191L380,193L373,196ZM380,191L383,189L383,191L380,193ZM383,189L395,179L395,181L383,191ZM395,179L400.6,176L400.6,178L395,181ZM400.6,176L403,177L403,179L400.6,178ZM402,178L410,164.4L412,164.4L404,178ZM411,163.4L416.4,165L416.4,167L411,165.4ZM415.4,166L419,158L421,158L417.4,166ZM420,157L428,149L428,151L420,159ZM428,149L444,139L444,141L428,151ZM443,140L449,133.4L451,133.4L445,140ZM451,133.4L453.6,139L451.6,139L449,133.4ZM451.6,139L454,135L456,135L453.6,139ZM455,134L463,127.4L463,129.4L455,136ZM463,127.4L466,130L466,132L463,129.4ZM465,131L473,121L475,121L467,131ZM474,120L477,123L477,125L474,122ZM477,123L480,120L480,122L477,125ZM480,120L482.4,120L482.4,122L480,122ZM481.4,121L484.6,117.6L486.6,117.6L483.4,121ZM486.6,117.6L489.4,122L487.4,122L484.6,117.6ZM488.4,121L493,117.6L493,119.6L488.4,123ZM493,117.6L496.4,116.6L496.4,118.6L493,119.6ZM495.4,117.6L498.4,114L500.4,114L497.4,117.6ZM499.4,113L505,112.6L505,114.6L499.4,115ZM505,112.6L507.6,111L507.6,113L505,114.6ZM508.6,112L511.4,116L509.4,116L506.6,112ZM509.4,116L512,110.6L514,110.6L511.4,116ZM513,109.6L515.6,111.6L515.6,113.6L513,111.6ZM515.6,111.6L519,109.6L519,111.6L515.6,113.6ZM519,109.6L524.4,109.6L524.4,111.6L519,111.6ZM523.4,110.6L526,107.6L528,107.6L525.4,110.6ZM527,106.6L530,106L530,108L527,108.6ZM530,106L533,104.6L533,106.6L530,108ZM533,104.6L535.4,106L535.4,108L533,106.6ZM536.4,107L539,113.6L537,113.6L534.4,107ZM538,112.6L541,114L541,116L538,114.6ZM541,114L543.6,113.6L543.6,115.6L541,116ZM542.6,114.6L545.6,109L547.6,109L544.6,114.6ZM546.6,108L549.4,109.6L549.4,111.6L546.6,110ZM550.4,110.6L553,113.6L551,113.6L548.4,110.6ZM551,113.6L553.6,110.6L555.6,110.6L553,113.6ZM555.6,110.6L558.6,119L556.6,119L553.6,110.6ZM556.6,119L559,115.6L561,115.6L558.6,119ZM560,114.6L562.6,113.6L562.6,115.6L560,116.6ZM561.6,114.6L565,106.6L567,106.6L563.6,114.6ZM566,105.6L569,105L569,107L566,107.6ZM569,105L571.6,103.6L571.6,105.6L569,107ZM572.6,104.6L575,108L573,108L570.6,104.6ZM575,108L578,114L576,114L573,108ZM578,114L580.6,121L578.6,121L576,114ZM578.6,121L581.4,113L583.4,113L580.6,121ZM583.4,113L586,118L584,118L581.4,113ZM585,117L588,120L588,122L585,119ZM588,120L590.4,121L590.4,123L588,122ZM589.4,122L592.4,116L594.4,116L591.4,122ZM594.4,116L597,120L595,120L592.4,116ZM596,119L598.6,119L598.6,121L596,121ZM597.6,120L600.4,115L602.4,115L599.6,120ZM601.4,114L607,114L607,116L601.4,116ZM607,114L613,110L613,112L607,116ZM613,110L618,111L618,113L613,112ZM618,111L621,114L621,116L618,113ZM621,114L626,115.6L626,117.6L621,116ZM626,115.6L628,114.6L628,116.6L626,117.6ZM628,114.6L634,118L634,120L628,116.6ZM634,118L637,120L637,122L634,120ZM637,120L639.4,119L639.4,121L637,122ZM640.4,120L644,126L642,126L638.4,120ZM643,125L647,127.6L647,129.6L643,127ZM647,127.6L650.6,129L650.6,131L647,129.6ZM651.6,130L654.6,134.6L652.6,134.6L649.6,130ZM653.6,133.6L656,135L656,137L653.6,135.6ZM656,135L659,133.6L659,135.6L656,137ZM660,134.6L662.6,138L660.6,138L658,134.6ZM661.6,137L665,137L665,139L661.6,139ZM665,137L673,140.6L673,142.6L665,139ZM674,141.6L678,146.4L676,146.4L672,141.6ZM677,145.4L681,146L681,148L677,147.4ZM681,146L689.6,149.4L689.6,151.4L681,148ZM689.6,149.4L692.4,147.6L692.4,149.6L689.6,151.4ZM693.4,148.6L695.4,159L693.4,159L691.4,148.6ZM695.4,159L698.6,167.6L696.6,167.6L693.4,159ZM697.6,166.6L703.6,161L703.6,163L697.6,168.6ZM704.6,162L706.6,170L704.6,170L702.6,162ZM705.6,169L708.4,171.6L708.4,173.6L705.6,171ZM709.4,172.6L710.8,181L708.8,181L707.4,172.6ZM710.8,181L711.4,186.5L709.4,186.5L708.8,181ZM711.4,186.5L712.9,190.2L710.9,190.2L709.4,186.5ZM711.9,189.2L714.1,188L714.1,190L711.9,191.2ZM714.1,188L718.4,189.8L718.4,191.8L714.1,190ZM718.4,189.8L724.5,191.4L724.5,193.4L718.4,191.8ZM724.5,191.4L728.8,194.7L728.8,196.7L724.5,193.4ZM728.8,194.7L737.4,201.1L737.4,203.1L728.8,196.7ZM737.4,201.1L753.3,201.1L753.3,203.1L737.4,203.1ZM753.3,201.1L760,203.9L760,205.9L753.3,203.1ZM760,203.9L763.1,203.9L763.1,205.9L760,205.9ZM763.1,203.9L769.9,208.8L769.9,210.8L763.1,205.9ZM769.9,208.8L778.4,208.8L778.4,210.8L769.9,210.8ZM778.4,208.8L780.3,207.6L780.3,209.6L778.4,210.8ZM780.3,207.6L782.1,208.8L782.1,210.8L780.3,209.6ZM782.1,208.8L785.2,207.6L785.2,209.6L782.1,210.8ZM785.2,207.6L791.3,211.3L791.3,213.3L785.2,209.6ZM791.3,211.3L798,213.7L798,215.7L791.3,213.3ZM798,213.7L802.9,214.3L802.9,216.3L798,215.7ZM802.9,214.3L805,215.4L805,217.4L802.9,216.3ZM70,227.6L71,228.6L70,229.6L69,228.6ZM73,229L74,230L73,231L72,230ZM86,229L87,230L86,231L85,230ZM89,231L90,232L89,233L88,232ZM92,231L93,232L92,233L91,232ZM100,235L101,236L100,237L99,236ZM108,235L109,236L108,237L107,236ZM111.6,236L112.6,237L111.6,238L110.6,237ZM116,233.6L117,234.6L116,235.6L115,234.6ZM120,233.6L121,234.6L120,235.6L119,234.6ZM128,238.4L129,239.4L128,240.4L127,239.4ZM136,239L137,240L136,241L135,240ZM139,240L140,241L139,242L138,241ZM142,239L143,240L142,241L141,240ZM149,240.4L150,241.4L149,242.4L148,241.4ZM160,245.6L161,246.6L160,247.6L159,246.6ZM167,246L168,247L167,248L166,247ZM174,251L175,252L174,253L173,252ZM177.4,251L178.4,252L177.4,253L176.4,252ZM180,250L181,251L180,252L179,251ZM183,250L184,251L183,252L182,251ZM189,253L190,254L189,255L188,254ZM195,253L196,254L195,255L194,254ZM200,251.6L201,252.6L200,253.6L199,252.6ZM202.4,252L203.4,253L202.4,254L201.4,253ZM204.4,253.6L205.4,254.6L204.4,255.6L203.4,254.6ZM208,254L209,255L208,256L207,255ZM213,257L214,258L213,259L212,258ZM218,253.6L219,254.6L218,255.6L217,254.6ZM223,257.6L224,258.6L223,259.6L222,258.6ZM226,257.6L227,258.6L226,259.6L225,258.6ZM229.4,252.6L230.4,253.6L229.4,254.6L228.4,253.6ZM232.4,251L233.4,252L232.4,253L231.4,252ZM235,251L236,252L235,253L234,252ZM237.6,247.6L238.6,248.6L237.6,249.6L236.6,248.6ZM240,249L241,250L240,251L239,250ZM243,250L244,251L243,252L242,251ZM247,249L248,250L247,251L246,250ZM252,249L253,250L252,251L251,250ZM257,250.4L258,251.4L257,252.4L256,251.4ZM260,253L261,254L260,255L259,254ZM265,254L266,255L265,256L264,255ZM269,252L270,253L269,254L268,253ZM272,252.4L273,253.4L272,254.4L271,253.4ZM277,255L278,256L277,257L276,256ZM282,258L283,259L282,260L281,259ZM285,257L286,258L285,259L284,258ZM290,257L291,258L290,259L289,258ZM294,254.4L295,255.4L294,256.4L293,255.4ZM300,254L301,255L300,256L299,255ZM305,250L306,251L305,252L304,251ZM310,247.6L311,248.6L310,249.6L309,248.6ZM315,246L316,247L315,248L314,247ZM320,243L321,244L320,245L319,244ZM325,240.6L326,241.6L325,242.6L324,241.6ZM331,235L332,236L331,237L330,236ZM337,231.6L338,232.6L337,233.6L336,232.6ZM342,227L343,228L342,229L341,228ZM349,221L350,222L349,223L348,222ZM356,213L357,214L356,215L355,214ZM361,208L362,209L361,210L360,209ZM366,204L367,205L366,206L365,205ZM370,198L371,199L370,200L369,199ZM373,194L374,195L373,196L372,195ZM380,191L381,192L380,193L379,192ZM383,189L384,190L383,191L382,190ZM395,179L396,180L395,181L394,180ZM400.6,176L401.6,177L400.6,178L399.6,177ZM403,177L404,178L403,179L402,178ZM411,163.4L412,164.4L411,165.4L410,164.4ZM416.4,165L417.4,166L416.4,167L415.4,166ZM420,157L421,158L420,159L419,158ZM428,149L429,150L428,151L427,150ZM444,139L445,140L444,141L443,140ZM450,132.4L451,133.4L450,134.4L449,133.4ZM452.6,138L453.6,139L452.6,140L451.6,139ZM455,134L456,135L455,136L454,135ZM463,127.4L464,128.4L463,129.4L462,128.4ZM466,130L467,131L466,132L465,131ZM474,120L475,121L474,122L473,121ZM477,123L478,124L477,125L476,124ZM480,120L481,121L480,122L479,121ZM482.4,120L483.4,121L482.4,122L481.4,121ZM485.6,116.6L486.6,117.6L485.6,118.6L484.6,117.6ZM488.4,121L489.4,122L488.4,123L487.4,122ZM493,117.6L494,118.6L493,119.6L492,118.6ZM496.4,116.6L497.4,117.6L496.4,118.6L495.4,117.6ZM499.4,113L500.4,114L499.4,115L498.4,114ZM505,112.6L506,113.6L505,114.6L504,113.6ZM507.6,111L508.6,112L507.6,113L506.6,112ZM510.4,115L511.4,116L510.4,117L509.4,116ZM513,109.6L514,110.6L513,111.6L512,110.6ZM515.6,111.6L516.6,112.6L515.6,113.6L514.6,112.6ZM519,109.6L520,110.6L519,111.6L518,110.6ZM524.4,109.6L525.4,110.6L524.4,111.6L523.4,110.6ZM527,106.6L528,107.6L527,108.6L526,107.6ZM530,106L531,107L530,108L529,107ZM533,104.6L534,105.6L533,106.6L532,105.6ZM535.4,106L536.4,107L535.4,108L534.4,107ZM538,112.6L539,113.6L538,114.6L537,113.6ZM541,114L542,115L541,116L540,115ZM543.6,113.6L544.6,114.6L543.6,115.6L542.6,114.6ZM546.6,108L547.6,109L546.6,110L545.6,109ZM549.4,109.6L550.4,110.6L549.4,111.6L548.4,110.6ZM552,112.6L553,113.6L552,114.6L551,113.6ZM554.6,109.6L555.6,110.6L554.6,111.6L553.6,110.6ZM557.6,118L558.6,119L557.6,120L556.6,119ZM560,114.6L561,115.6L560,116.6L559,115.6ZM562.6,113.6L563.6,114.6L562.6,115.6L561.6,114.6ZM566,105.6L567,106.6L566,107.6L565,106.6ZM569,105L570,106L569,107L568,106ZM571.6,103.6L572.6,104.6L571.6,105.6L570.6,104.6ZM574,107L575,108L574,109L573,108ZM577,113L578,114L577,115L576,114ZM579.6,120L580.6,121L579.6,122L578.6,121ZM582.4,112L583.4,113L582.4,114L581.4,113ZM585,117L586,118L585,119L584,118ZM588,120L589,121L588,122L587,121ZM590.4,121L591.4,122L590.4,123L589.4,122ZM593.4,115L594.4,116L593.4,117L592.4,116ZM596,119L597,120L596,121L595,120ZM598.6,119L599.6,120L598.6,121L597.6,120ZM601.4,114L602.4,115L601.4,116L600.4,115ZM607,114L608,115L607,116L606,115ZM613,110L614,111L613,112L612,111ZM618,111L619,112L618,113L617,112ZM621,114L622,115L621,116L620,115ZM626,115.6L627,116.6L626,117.6L625,116.6ZM628,114.6L629,115.6L628,116.6L627,115.6ZM634,118L635,119L634,120L633,119ZM637,120L638,121L637,122L636,121ZM639.4,119L640.4,120L639.4,121L638.4,120ZM643,125L644,126L643,127L642,126ZM647,127.6L648,128.6L647,129.6L646,128.6ZM650.6,129L651.6,130L650.6,131L649.6,130ZM653.6,133.6L654.6,134.6L653.6,135.6L652.6,134.6ZM656,135L657,136L656,137L655,136ZM659,133.6L660,134.6L659,135.6L658,134.6ZM661.6,137L662.6,138L661.6,139L660.6,138ZM665,137L666,138L665,139L664,138ZM673,140.6L674,141.6L673,142.6L672,141.6ZM677,145.4L678,146.4L677,147.4L676,146.4ZM681,146L682,147L681,148L680,147ZM689.6,149.4L690.6,150.4L689.6,151.4L688.6,150.4ZM692.4,147.6L693.4,148.6L692.4,149.6L691.4,148.6ZM694.4,158L695.4,159L694.4,160L693.4,159ZM697.6,166.6L698.6,167.6L697.6,168.6L696.6,167.6ZM703.6,161L704.6,162L703.6,163L702.6,162ZM705.6,169L706.6,170L705.6,171L704.6,170ZM708.4,171.6L709.4,172.6L708.4,173.6L707.4,172.6ZM709.8,180L710.8,181L709.8,182L708.8,181ZM710.4,185.5L711.4,186.5L710.4,187.5L709.4,186.5ZM711.9,189.2L712.9,190.2L711.9,191.2L710.9,190.2ZM714.1,188L715.1,189L714.1,190L713.1,189ZM718.4,189.8L719.4,190.8L718.4,191.8L717.4,190.8ZM724.5,191.4L725.5,192.4L724.5,193.4L723.5,192.4ZM728.8,194.7L729.8,195.7L728.8,196.7L727.8,195.7ZM737.4,201.1L738.4,202.1L737.4,203.1L736.4,202.1ZM753.3,201.1L754.3,202.1L753.3,203.1L752.3,202.1ZM760,203.9L761,204.9L760,205.9L759,204.9ZM763.1,203.9L764.1,204.9L763.1,205.9L762.1,204.9ZM769.9,208.8L770.9,209.8L769.9,210.8L768.9,209.8ZM778.4,208.8L779.4,209.8L778.4,210.8L777.4,209.8ZM780.3,207.6L781.3,208.6L780.3,209.6L779.3,208.6ZM782.1,208.8L783.1,209.8L782.1,210.8L781.1,209.8ZM785.2,207.6L786.2,208.6L785.2,209.6L784.2,208.6ZM791.3,211.3L792.3,212.3L791.3,213.3L790.3,212.3ZM798,213.7L799,214.7L798,215.7L797,214.7ZM802.9,214.3L803.9,215.3L802.9,216.3L801.9,215.3ZM805,215.4L806,216.4L805,217.4L804,216.4Z" fill="#ff0000" fill-rule="nonzero" stroke="none"/>
<path d="M70,132L75,129L75,131L70,134ZM75,129L83.6,129L83.6,131L75,131ZM82.6,130L85.4,127L87.4,127L84.6,130ZM86.4,126L92.6,126L92.6,128L86.4,128ZM91.6,127L93.4,124L95.4,124L93.6,127ZM94.4,123L97.6,126L97.6,128L94.4,125ZM97.6,126L100.4,126L100.4,128L97.6,128ZM100.4,126L103.4,123L103.4,125L100.4,128ZM103.4,123L111.6,123L111.6,125L103.4,125ZM110.6,124L113.4,120.6L115.4,120.6L112.6,124ZM113.4,120.6L116,117.6L118,117.6L115.4,120.6ZM117,116.6L122.4,116.6L122.4,118.6L117,118.6ZM122.4,116.6L125.6,119.6L125.6,121.6L122.4,118.6ZM125.6,119.6L133.6,119.6L133.6,121.6L125.6,121.6ZM132.6,120.6L135.4,117.6L137.4,117.6L134.6,120.6ZM136.4,116.6L139,116.6L139,118.6L136.4,118.6ZM138,117.6L140.6,114L142.6,114L140,117.6ZM141.6,113L144.4,113L144.4,115L141.6,115ZM145.4,114L148.6,117.6L146.6,117.6L143.4,114ZM147.6,116.6L169,116.6L169,118.6L147.6,118.6ZM168,117.6L170.6,114L172.6,114L170,117.6ZM171.6,113L177.6,113L177.6,115L171.6,115ZM176.6,114L179.4,110.6L181.4,110.6L178.6,114ZM180.4,109.6L196.4,109.6L196.4,111.6L180.4,111.6ZM196.4,109.6L199.6,107L199.6,109L196.4,111.6ZM199.6,107L226.4,107L226.4,109L199.6,109ZM225.4,108L227,98L229,98L227.4,108ZM227,98L229,83L231,83L229,98ZM229,83L231.4,74L233.4,74L231,83ZM232.4,73L237,73L237,75L232.4,75ZM236,74L239,68L241,68L238,74ZM240,67L243.4,70L243.4,72L240,69ZM243.4,70L246.4,70L246.4,72L243.4,72ZM247.4,71L249.4,74L247.4,74L245.4,71ZM248.4,73L251.6,70L251.6,72L248.4,75ZM251.6,70L254.4,70L254.4,72L251.6,72ZM254.4,70L257.6,67L257.6,69L254.4,72ZM257.6,67L265.6,67L265.6,69L257.6,69ZM264.6,68L267.4,64.6L269.4,64.6L266.6,68ZM269.4,64.6L271.4,68L269.4,68L267.4,64.6ZM269.4,68L272.4,64.6L274.4,64.6L271.4,68ZM274.4,64.6L277.4,68L275.4,68L272.4,64.6ZM275.4,68L278.4,64.6L280.4,64.6L277.4,68ZM279.4,63.6L281.6,63.6L281.6,65.6L279.4,65.6ZM282.6,64.6L285.4,68L283.4,68L280.6,64.6ZM283.4,68L286.6,64.6L288.6,64.6L285.4,68ZM287.6,63.6L292.4,63.6L292.4,65.6L287.6,65.6ZM292.4,63.6L295.6,60.6L295.6,62.6L292.4,65.6ZM295.6,60.6L301.6,60.6L301.6,62.6L295.6,62.6ZM302.6,61.6L305,64.6L303,64.6L300.6,61.6ZM305,64.6L308,68L306,68L303,64.6ZM307,67L317.6,67L317.6,69L307,69ZM318.6,68L321.4,71L319.4,71L316.6,68ZM320.4,70L326,70L326,72L320.4,72ZM327,71L330,77L328,77L325,71ZM330,77L332.6,80L330.6,80L328,77ZM331.6,79L334.4,79L334.4,81L331.6,81ZM334.4,79L337.6,82L337.6,84L334.4,81ZM337.6,82L340,82L340,84L337.6,84ZM341,83L343.4,86.4L341.4,86.4L339,83ZM343.4,86.4L350.6,94L348.6,94L341.4,86.4ZM350.6,94L354.6,102L352.6,102L348.6,94ZM353.6,101L359.4,101L359.4,103L353.6,103ZM360.4,102L365.4,108L363.4,108L358.4,102ZM364.4,107L368,107L368,109L364.4,109ZM369,108L371.4,111L369.4,111L367,108ZM371.4,111L373.4,117.4L371.4,117.4L369.4,111ZM372.4,116.4L375,117L375,119L372.4,118.4ZM375,117L378,119.6L378,121.6L375,119ZM378,119.6L381,119.6L381,121.6L378,121.6ZM382,120.6L384.4,130L382.4,130L380,120.6ZM382.4,130L385,127L387,127L384.4,130ZM387,127L390,132.4L388,132.4L385,127ZM389,131.4L392,131.4L392,133.4L389,133.4ZM393,132.4L399,142L397,142L391,132.4ZM398,141L400.6,141L400.6,143L398,143ZM399.6,142L402,139L404,139L401.6,142ZM404,139L406.4,148.4L404.4,148.4L402,139ZM404.4,148.4L407,145L409,145L406.4,148.4ZM409,145L412,154.4L410,154.4L407,145ZM410,154.4L413,148.4L415,148.4L412,154.4ZM415,148.4L418,152L416,152L413,148.4ZM418,152L423.4,163.6L421.4,163.6L416,152ZM422.4,162.6L426.6,159.4L426.6,161.4L422.4,164.6ZM427.6,160.4L430,167L428,167L425.6,160.4ZM430,167L434.6,180L432.6,180L428,167ZM432.6,180L436.4,169.6L438.4,169.6L434.6,180ZM438.4,169.6L440.4,173L438.4,173L436.4,169.6ZM440.4,173L445.4,195L443.4,195L438.4,173ZM443.4,195L446.4,183L448.4,183L445.4,195ZM448.4,183L450.6,195L448.6,195L446.4,183ZM448.6,195L452,191.6L454,191.6L450.6,195ZM453,190.6L455.6,190.6L455.6,192.6L453,192.6ZM456.6,191.6L459,201L457,201L454.6,191.6ZM458,200L463.6,200L463.6,202L458,202ZM464.6,201L468,211L466,211L462.6,201ZM466,211L468.6,204L470.6,204L468,211ZM470.6,204L473,207L471,207L468.6,204ZM472,206L474.4,206L474.4,208L472,208ZM475.4,207L478,211L476,211L473.4,207ZM477,210L482.4,210L482.4,212L477,212ZM483.4,211L486.6,217L484.6,217L481.4,211ZM484.6,217L487,214L489,214L486.6,217ZM489,214L492.6,220L490.6,220L487,214ZM491.6,219L499,219L499,221L491.6,221ZM499,219L502,222L502,224L499,221ZM502,222L505,222L505,224L502,224ZM506,223L509,229L507,229L504,223ZM508,228L513,228L513,230L508,230ZM514,229L516.6,232L514.6,232L512,229ZM515.6,231L521,231L521,233L515.6,233ZM522,232L527.4,238L525.4,238L520,232ZM526.4,237L529.6,234L529.6,236L526.4,239ZM529.6,234L532,234L532,236L529.6,236ZM533,235L536.6,241.6L534.6,241.6L531,235ZM534.6,241.6L536.4,235L538.4,235L536.6,241.6ZM537.4,234L549,234L549,236L537.4,236ZM549,234L552,237L552,239L549,236ZM551,238L553.4,235L555.4,235L553,238ZM553.4,235L556.6,226L558.6,226L555.4,235ZM558.6,226L561,229L559,229L556.6,226ZM560,228L562.4,228L562.4,230L560,230ZM562.4,228L565.6,231L565.6,233L562.4,230ZM566.6,232L572,238.4L570,238.4L564.6,232ZM572,238.4L574.6,244.4L572.6,244.4L570,238.4ZM572.6,244.4L575.4,235L577.4,235L574.6,244.4ZM576.4,234L579.4,231L579.4,233L576.4,236ZM580.4,232L583.4,238L581.4,238L578.4,232ZM582.4,237L585,237L585,239L582.4,239ZM584,238L589.4,232L591.4,232L586,238ZM591.4,232L594,235L592,235L589.4,232ZM592,235L595,229L597,229L594,235ZM596,228L599,231L599,233L596,230ZM599,231L606.4,231L606.4,233L599,233ZM606.4,231L609.6,234L609.6,236L606.4,233ZM609.6,234L620,234L620,236L609.6,236ZM620,234L623,231L623,233L620,236ZM623,231L628,231L628,233L623,233ZM628,231L631,234L631,236L628,233ZM630,235L633.4,229L635.4,229L632,235ZM634.4,228L637.6,228L637.6,230L634.4,230ZM638.6,229L640.4,235L638.4,235L636.6,229ZM638.4,235L641,229L643,229L640.4,235ZM642,228L648,228L648,230L642,230ZM647,229L652.6,223L654.6,223L649,229ZM653.6,222L656.6,225L656.6,227L653.6,224ZM656.6,225L659.4,225L659.4,227L656.6,227ZM658.4,226L661,223L663,223L660.4,226ZM662,222L667,222L667,224L662,224ZM667,222L670.4,219L670.4,221L667,224ZM670.4,219L675.6,219L675.6,221L670.4,221ZM675.6,219L678.6,216L678.6,218L675.6,221ZM678.6,216L683.6,216L683.6,218L678.6,218ZM684.6,217L687.4,220L685.4,220L682.6,217ZM686.4,219L689.4,216L689.4,218L686.4,221ZM690.4,217L693,220L691,220L688.4,217ZM691,220L693,213.6L695,213.6L693,220ZM693,213.6L695.4,205L697.4,205L695,213.6ZM695.4,205L699.6,198L701.6,198L697.4,205ZM701.6,198L704.4,201L702.4,201L699.6,198ZM702.4,201L705,195L707,195L704.4,201ZM706,194L708.6,194L708.6,196L706,196ZM707.6,195L709,182L711,182L709.6,195ZM709,182L710.6,176L712.6,176L711,182ZM711.6,175L716,175L716,177L711.6,177ZM716,175L719.4,172L719.4,174L716,177ZM719.4,172L722.6,172L722.6,174L719.4,174ZM722.6,172L725.6,169L725.6,171L722.6,174ZM725.6,169L730.4,169L730.4,171L725.6,171ZM729.4,170L740.6,158L742.6,158L731.4,170ZM741.6,157L744.4,157L744.4,159L741.6,159ZM743.4,158L746.6,154.6L748.6,154.6L745.4,158ZM747.6,153.6L763,153.6L763,155.6L747.6,155.6ZM763,153.6L766.4,150.6L766.4,152.6L763,155.6ZM766.4,150.6L769.4,150.6L769.4,152.6L766.4,152.6ZM768.4,151.6L770.6,148.6L772.6,148.6L770.4,151.6ZM771.6,147.6L774.4,147.6L774.4,149.6L771.6,149.6ZM773.4,148.6L776,145L778,145L775.4,148.6ZM777,144L780,144L780,146L777,146ZM779,145L781.4,142L783.4,142L781,145ZM782.4,141L796.4,141L796.4,143L782.4,143ZM795.4,142L798.4,138.6L800.4,138.6L797.4,142ZM799.4,137.6L805,137.6L805,139.6L799.4,139.6ZM70,132L71,133L70,134L69,133ZM75,129L76,130L75,131L74,130ZM83.6,129L84.6,130L83.6,131L82.6,130ZM86.4,126L87.4,127L86.4,128L85.4,127ZM92.6,126L93.6,127L92.6,128L91.6,127ZM94.4,123L95.4,124L94.4,125L93.4,124ZM97.6,126L98.6,127L97.6,128L96.6,127ZM100.4,126L101.4,127L100.4,128L99.4,127ZM103.4,123L104.4,124L103.4,125L102.4,124ZM111.6,123L112.6,124L111.6,125L110.6,124ZM114.4,119.6L115.4,120.6L114.4,121.6L113.4,120.6ZM117,116.6L118,117.6L117,118.6L116,117.6ZM122.4,116.6L123.4,117.6L122.4,118.6L121.4,117.6ZM125.6,119.6L126.6,120.6L125.6,121.6L124.6,120.6ZM133.6,119.6L134.6,120.6L133.6,121.6L132.6,120.6ZM136.4,116.6L137.4,117.6L136.4,118.6L135.4,117.6ZM139,116.6L140,117.6L139,118.6L138,117.6ZM141.6,113L142.6,114L141.6,115L140.6,114ZM144.4,113L145.4,114L144.4,115L143.4,114ZM147.6,116.6L148.6,117.6L147.6,118.6L146.6,117.6ZM169,116.6L170,117.6L169,118.6L168,117.6ZM171.6,113L172.6,114L171.6,115L170.6,114ZM177.6,113L178.6,114L177.6,115L176.6,114ZM180.4,109.6L181.4,110.6L180.4,111.6L179.4,110.6ZM196.4,109.6L197.4,110.6L196.4,111.6L195.4,110.6ZM199.6,107L200.6,108L199.6,109L198.6,108ZM226.4,107L227.4,108L226.4,109L225.4,108ZM228,97L229,98L228,99L227,98ZM230,82L231,83L230,84L229,83ZM232.4,73L233.4,74L232.4,75L231.4,74ZM237,73L238,74L237,75L236,74ZM240,67L241,68L240,69L239,68ZM243.4,70L244.4,71L243.4,72L242.4,71ZM246.4,70L247.4,71L246.4,72L245.4,71ZM248.4,73L249.4,74L248.4,75L247.4,74ZM251.6,70L252.6,71L251.6,72L250.6,71ZM254.4,70L255.4,71L254.4,72L253.4,71ZM257.6,67L258.6,68L257.6,69L256.6,68ZM265.6,67L266.6,68L265.6,69L264.6,68ZM268.4,63.6L269.4,64.6L268.4,65.6L267.4,64.6ZM270.4,67L271.4,68L270.4,69L269.4,68ZM273.4,63.6L274.4,64.6L273.4,65.6L272.4,64.6ZM276.4,67L277.4,68L276.4,69L275.4,68ZM279.4,63.6L280.4,64.6L279.4,65.6L278.4,64.6ZM281.6,63.6L282.6,64.6L281.6,65.6L280.6,64.6ZM284.4,67L285.4,68L284.4,69L283.4,68ZM287.6,63.6L288.6,64.6L287.6,65.6L286.6,64.6ZM292.4,63.6L293.4,64.6L292.4,65.6L291.4,64.6ZM295.6,60.6L296.6,61.6L295.6,62.6L294.6,61.6ZM301.6,60.6L302.6,61.6L301.6,62.6L300.6,61.6ZM304,63.6L305,64.6L304,65.6L303,64.6ZM307,67L308,68L307,69L306,68ZM317.6,67L318.6,68L317.6,69L316.6,68ZM320.4,70L321.4,71L320.4,72L319.4,71ZM326,70L327,71L326,72L325,71ZM329,76L330,77L329,78L328,77ZM331.6,79L332.6,80L331.6,81L330.6,80ZM334.4,79L335.4,80L334.4,81L333.4,80ZM337.6,82L338.6,83L337.6,84L336.6,83ZM340,82L341,83L340,84L339,83ZM342.4,85.4L343.4,86.4L342.4,87.4L341.4,86.4ZM349.6,93L350.6,94L349.6,95L348.6,94ZM353.6,101L354.6,102L353.6,103L352.6,102ZM359.4,101L360.4,102L359.4,103L358.4,102ZM364.4,107L365.4,108L364.4,109L363.4,108ZM368,107L369,108L368,109L367,108ZM370.4,110L371.4,111L370.4,112L369.4,111ZM372.4,116.4L373.4,117.4L372.4,118.4L371.4,117.4ZM375,117L376,118L375,119L374,118ZM378,119.6L379,120.6L378,121.6L377,120.6ZM381,119.6L382,120.6L381,121.6L380,120.6ZM383.4,129L384.4,130L383.4,131L382.4,130ZM386,126L387,127L386,128L385,127ZM389,131.4L390,132.4L389,133.4L388,132.4ZM392,131.4L393,132.4L392,133.4L391,132.4ZM398,141L399,142L398,143L397,142ZM400.6,141L401.6,142L400.6,143L399.6,142ZM403,138L404,139L403,140L402,139ZM405.4,147.4L406.4,148.4L405.4,149.4L404.4,148.4ZM408,144L409,145L408,146L407,145ZM411,153.4L412,154.4L411,155.4L410,154.4ZM414,147.4L415,148.4L414,149.4L413,148.4ZM417,151L418,152L417,153L416,152ZM422.4,162.6L423.4,163.6L422.4,164.6L421.4,163.6ZM426.6,159.4L427.6,160.4L426.6,161.4L425.6,160.4ZM429,166L430,167L429,168L428,167ZM433.6,179L434.6,180L433.6,181L432.6,180ZM437.4,168.6L438.4,169.6L437.4,170.6L436.4,169.6ZM439.4,172L440.4,173L439.4,174L438.4,173ZM444.4,194L445.4,195L444.4,196L443.4,195ZM447.4,182L448.4,183L447.4,184L446.4,183ZM449.6,194L450.6,195L449.6,196L448.6,195ZM453,190.6L454,191.6L453,192.6L452,191.6ZM455.6,190.6L456.6,191.6L455.6,192.6L454.6,191.6ZM458,200L459,201L458,202L457,201ZM463.6,200L464.6,201L463.6,202L462.6,201ZM467,210L468,211L467,212L466,211ZM469.6,203L470.6,204L469.6,205L468.6,204ZM472,206L473,207L472,208L471,207ZM474.4,206L475.4,207L474.4,208L473.4,207ZM477,210L478,211L477,212L476,211ZM482.4,210L483.4,211L482.4,212L481.4,211ZM485.6,216L486.6,217L485.6,218L484.6,217ZM488,213L489,214L488,215L487,214ZM491.6,219L492.6,220L491.6,221L490.6,220ZM499,219L500,220L499,221L498,220ZM502,222L503,223L502,224L501,223ZM505,222L506,223L505,224L504,223ZM508,228L509,229L508,230L507,229ZM513,228L514,229L513,230L512,229ZM515.6,231L516.6,232L515.6,233L514.6,232ZM521,231L522,232L521,233L520,232ZM526.4,237L527.4,238L526.4,239L525.4,238ZM529.6,234L530.6,235L529.6,236L528.6,235ZM532,234L533,235L532,236L531,235ZM535.6,240.6L536.6,241.6L535.6,242.6L534.6,241.6ZM537.4,234L538.4,235L537.4,236L536.4,235ZM549,234L550,235L549,236L548,235ZM552,237L553,238L552,239L551,238ZM554.4,234L555.4,235L554.4,236L553.4,235ZM557.6,225L558.6,226L557.6,227L556.6,226ZM560,228L561,229L560,230L559,229ZM562.4,228L563.4,229L562.4,230L561.4,229ZM565.6,231L566.6,232L565.6,233L564.6,232ZM571,237.4L572,238.4L571,239.4L570,238.4ZM573.6,243.4L574.6,244.4L573.6,245.4L572.6,244.4ZM576.4,234L577.4,235L576.4,236L575.4,235ZM579.4,231L580.4,232L579.4,233L578.4,232ZM582.4,237L583.4,238L582.4,239L581.4,238ZM585,237L586,238L585,239L584,238ZM590.4,231L591.4,232L590.4,233L589.4,232ZM593,234L594,235L593,236L592,235ZM596,228L597,229L596,230L595,229ZM599,231L600,232L599,233L598,232ZM606.4,231L607.4,232L606.4,233L605.4,232ZM609.6,234L610.6,235L609.6,236L608.6,235ZM620,234L621,235L620,236L619,235ZM623,231L624,232L623,233L622,232ZM628,231L629,232L628,233L627,232ZM631,234L632,235L631,236L630,235ZM634.4,228L635.4,229L634.4,230L633.4,229ZM637.6,228L638.6,229L637.6,230L636.6,229ZM639.4,234L640.4,235L639.4,236L638.4,235ZM642,228L643,229L642,230L641,229ZM648,228L649,229L648,230L647,229ZM653.6,222L654.6,223L653.6,224L652.6,223ZM656.6,225L657.6,226L656.6,227L655.6,226ZM659.4,225L660.4,226L659.4,227L658.4,226ZM662,222L663,223L662,224L661,223ZM667,222L668,223L667,224L666,223ZM670.4,219L671.4,220L670.4,221L669.4,220ZM675.6,219L676.6,220L675.6,221L674.6,220ZM678.6,216L679.6,217L678.6,218L677.6,217ZM683.6,216L684.6,217L683.6,218L682.6,217ZM686.4,219L687.4,220L686.4,221L685.4,220ZM689.4,216L690.4,217L689.4,218L688.4,217ZM692,219L693,220L692,221L691,220ZM694,212.6L695,213.6L694,214.6L693,213.6ZM696.4,204L697.4,205L696.4,206L695.4,205ZM700.6,197L701.6,198L700.6,199L699.6,198ZM703.4,200L704.4,201L703.4,202L702.4,201ZM706,194L707,195L706,196L705,195ZM708.6,194L709.6,195L708.6,196L707.6,195ZM710,181L711,182L710,183L709,182ZM711.6,175L712.6,176L711.6,177L710.6,176ZM716,175L717,176L716,177L715,176ZM719.4,172L720.4,173L719.4,174L718.4,173ZM722.6,172L723.6,173L722.6,174L721.6,173ZM725.6,169L726.6,170L725.6,171L724.6,170ZM730.4,169L731.4,170L730.4,171L729.4,170ZM741.6,157L742.6,158L741.6,159L740.6,158ZM744.4,157L745.4,158L744.4,159L743.4,158ZM747.6,153.6L748.6,154.6L747.6,155.6L746.6,154.6ZM763,153.6L764,154.6L763,155.6L762,154.6ZM766.4,150.6L767.4,151.6L766.4,152.6L765.4,151.6ZM769.4,150.6L770.4,151.6L769.4,152.6L768.4,151.6ZM771.6,147.6L772.6,148.6L771.6,149.6L770.6,148.6ZM774.4,147.6L775.4,148.6L774.4,149.6L773.4,148.6ZM777,144L778,145L777,146L776,145ZM780,144L781,145L780,146L779,145ZM782.4,141L783.4,142L782.4,143L781.4,142ZM796.4,141L797.4,142L796.4,143L795.4,142ZM799.4,137.6L800.4,138.6L799.4,139.6L798.4,138.6ZM805,137.6L806,138.6L805,139.6L804,138.6Z" fill="#9400d3" fill-rule="nonzero" stroke="none"/>
<path d="M70,188.8L75.6,188.8L75.6,190.8L70,190.8ZM76.6,189.8L79.4,207L77.4,207L74.6,189.8ZM78.4,206L83.6,206L83.6,208L78.4,208ZM82.6,207L85.4,189.8L87.4,189.8L84.6,207ZM86.4,188.8L224,188.8L224,190.8L86.4,190.8ZM223,189.8L226,172.6L228,172.6L225,189.8ZM227,171.6L232.4,171.6L232.4,173.6L227,173.6ZM233.4,172.6L236.6,189.8L234.6,189.8L231.4,172.6ZM235.6,188.8L240.4,188.8L240.4,190.8L235.6,190.8ZM239.4,189.8L242.6,172.6L244.6,172.6L241.4,189.8ZM243.6,171.6L265.6,171.6L265.6,173.6L243.6,173.6ZM266.6,172.6L269.6,189.8L267.6,189.8L264.6,172.6ZM268.6,188.8L273.6,188.8L273.6,190.8L268.6,190.8ZM274.6,189.8L277.6,207L275.6,207L272.6,189.8ZM276.6,206L281.4,206L281.4,208L276.6,208ZM280.4,207L283.4,189.8L285.4,189.8L282.4,207ZM284.4,188.8L298.6,188.8L298.6,190.8L284.4,190.8ZM299.6,189.8L302.6,207L300.6,207L297.6,189.8ZM301.6,206L323.6,206L323.6,208L301.6,208ZM322.6,207L325.6,189.8L327.6,189.8L324.6,207ZM326.6,188.8L331.6,188.8L331.6,190.8L326.6,190.8ZM332.6,189.8L335.6,207L333.6,207L330.6,189.8ZM334.6,206L339.4,206L339.4,208L334.6,208ZM338.4,207L341.4,189.8L343.4,189.8L340.4,207ZM342.4,188.8L348,188.8L348,190.8L342.4,190.8ZM349,189.8L351.6,207L349.6,207L347,189.8ZM350.6,206L414.4,206L414.4,208L350.6,208ZM413.4,207L416,189.8L418,189.8L415.4,207ZM417,188.8L422.4,188.8L422.4,190.8L417,190.8ZM423.4,189.8L426.4,207L424.4,207L421.4,189.8ZM425.4,206L430.6,206L430.6,208L425.4,208ZM429.6,207L432.4,189.8L434.4,189.8L431.6,207ZM433.4,188.8L438.6,188.8L438.6,190.8L433.4,190.8ZM439.6,189.8L442.6,207L440.6,207L437.6,189.8ZM441.6,206L455.6,206L455.6,208L441.6,208ZM454.6,207L457.4,189.8L459.4,189.8L456.6,207ZM458.4,188.8L471.6,188.8L471.6,190.8L458.4,190.8ZM472.6,189.8L475.4,207L473.4,207L470.6,189.8ZM474.4,206L488,206L488,208L474.4,208ZM487,207L490.6,189.8L492.6,189.8L489,207ZM491.6,188.8L496.6,188.8L496.6,190.8L491.6,190.8ZM495.6,189.8L498.6,172.6L500.6,172.6L497.6,189.8ZM499.6,171.6L504.4,171.6L504.4,173.6L499.6,173.6ZM505.4,172.6L508.6,189.8L506.6,189.8L503.4,172.6ZM507.6,188.8L529.4,188.8L529.4,190.8L507.6,190.8ZM530.4,189.8L533.6,207L531.6,207L528.4,189.8ZM532.6,206L571.6,206L571.6,208L532.6,208ZM572.6,207L574.6,224.2L572.6,224.2L570.6,207ZM573.6,223.2L595.6,223.2L595.6,225.2L573.6,225.2ZM596.6,224.2L599.4,241.4L597.4,241.4L594.6,224.2ZM598.4,240.4L675,240.4L675,242.4L598.4,242.4ZM674,241.4L675.6,232.5L677.6,232.5L676,241.4ZM675.6,232.5L677.6,224.2L679.6,224.2L677.6,232.5ZM678.6,223.2L703.4,223.2L703.4,225.2L678.6,225.2ZM704.4,224.2L705.4,232.5L703.4,232.5L702.4,224.2ZM705.4,232.5L706.6,241.4L704.6,241.4L703.4,232.5ZM704.6,241.4L706,232.5L708,232.5L706.6,241.4ZM706,232.5L707.6,224.2L709.6,224.2L708,232.5ZM708.6,223.2L711,223.2L711,225.2L708.6,225.2ZM712,224.2L713.6,232.5L711.6,232.5L710,224.2ZM713.6,232.5L715.4,241.4L713.4,241.4L711.6,232.5ZM714.4,240.4L805,240.4L805,242.4L714.4,242.4ZM70,188.8L71,189.8L70,190.8L69,189.8ZM75.6,188.8L76.6,189.8L75.6,190.8L74.6,189.8ZM78.4,206L79.4,207L78.4,208L77.4,207ZM83.6,206L84.6,207L83.6,208L82.6,207ZM86.4,188.8L87.4,189.8L86.4,190.8L85.4,189.8ZM224,188.8L225,189.8L224,190.8L223,189.8ZM227,171.6L228,172.6L227,173.6L226,172.6ZM232.4,171.6L233.4,172.6L232.4,173.6L231.4,172.6ZM235.6,188.8L236.6,189.8L235.6,190.8L234.6,189.8ZM240.4,188.8L241.4,189.8L240.4,190.8L239.4,189.8ZM243.6,171.6L244.6,172.6L243.6,173.6L242.6,172.6ZM265.6,171.6L266.6,172.6L265.6,173.6L264.6,172.6ZM268.6,188.8L269.6,189.8L268.6,190.8L267.6,189.8ZM273.6,188.8L274.6,189.8L273.6,190.8L272.6,189.8ZM276.6,206L277.6,207L276.6,208L275.6,207ZM281.4,206L282.4,207L281.4,208L280.4,207ZM284.4,188.8L285.4,189.8L284.4,190.8L283.4,189.8ZM298.6,188.8L299.6,189.8L298.6,190.8L297.6,189.8ZM301.6,206L302.6,207L301.6,208L300.6,207ZM323.6,206L324.6,207L323.6,208L322.6,207ZM326.6,188.8L327.6,189.8L326.6,190.8L325.6,189.8ZM331.6,188.8L332.6,189.8L331.6,190.8L330.6,189.8ZM334.6,206L335.6,207L334.6,208L333.6,207ZM339.4,206L340.4,207L339.4,208L338.4,207ZM342.4,188.8L343.4,189.8L342.4,190.8L341.4,189.8ZM348,188.8L349,189.8L348,190.8L347,189.8ZM350.6,206L351.6,207L350.6,208L349.6,207ZM414.4,206L415.4,207L414.4,208L413.4,207ZM417,188.8L418,189.8L417,190.8L416,189.8ZM422.4,188.8L423.4,189.8L422.4,190.8L421.4,189.8ZM425.4,206L426.4,207L425.4,208L424.4,207ZM430.6,206L431.6,207L430.6,208L429.6,207ZM433.4,188.8L434.4,189.8L433.4,190.8L432.4,189.8ZM438.6,188.8L439.6,189.8L438.6,190.8L437.6,189.8ZM441.6,206L442.6,207L441.6,208L440.6,207ZM455.6,206L456.6,207L455.6,208L454.6,207ZM458.4,188.8L459.4,189.8L458.4,190.8L457.4,189.8ZM471.6,188.8L472.6,189.8L471.6,190.8L470.6,189.8ZM474.4,206L475.4,207L474.4,208L473.4,207ZM488,206L489,207L488,208L487,207ZM491.6,188.8L492.6,189.8L491.6,190.8L490.6,189.8ZM496.6,188.8L497.6,189.8L496.6,190.8L495.6,189.8ZM499.6,171.6L500.6,172.6L499.6,173.6L498.6,172.6ZM504.4,171.6L505.4,172.6L504.4,173.6L503.4,172.6ZM507.6,188.8L508.6,189.8L507.6,190.8L506.6,189.8ZM529.4,188.8L530.4,189.8L529.4,190.8L528.4,189.8ZM532.6,206L533.6,207L532.6,208L531.6,207ZM571.6,206L572.6,207L571.6,208L570.6,207ZM573.6,223.2L574.6,224.2L573.6,225.2L572.6,224.2ZM595.6,223.2L596.6,224.2L595.6,225.2L594.6,224.2ZM598.4,240.4L599.4,241.4L598.4,242.4L597.4,241.4ZM675,240.4L676,241.4L675,242.4L674,241.4ZM676.6,231.5L677.6,232.5L676.6,233.5L675.6,232.5ZM678.6,223.2L679.6,224.2L678.6,225.2L677.6,224.2ZM703.4,223.2L704.4,224.2L703.4,225.2L702.4,224.2ZM704.4,231.5L705.4,232.5L704.4,233.5L703.4,232.5ZM705.6,240.4L706.6,241.4L705.6,242.4L704.6,241.4ZM707,231.5L708,232.5L707,233.5L706,232.5ZM708.6,223.2L709.6,224.2L708.6,225.2L707.6,224.2ZM711,223.2L712,224.2L711,225.2L710,224.2ZM712.6,231.5L713.6,232.5L712.6,233.5L711.6,232.5ZM714.4,240.4L715.4,241.4L714.4,242.4L713.4,241.4ZM805,240.4L806,241.4L805,242.4L804,241.4Z" fill="#228b22" fill-rule="nonzero" stroke="none"/>
<path d="M70,365L381.8,365L381.8,367L70,367ZM380.8,366L381.7,321L383.7,321L382.8,366ZM382.7,320L430,320L430,322L382.7,322ZM429,321L432,276.6L434,276.6L431,321ZM433,275.6L532.6,275.6L532.6,277.6L433,277.6ZM533.6,276.6L536.3,321L534.3,321L531.6,276.6ZM535.3,320L574,320L574,322L535.3,322ZM575,321L577.6,366L575.6,366L573,321ZM70,365L71,366L70,367L69,366ZM381.8,365L382.8,366L381.8,367L380.8,366ZM382.7,320L383.7,321L382.7,322L381.7,321ZM430,320L431,321L430,322L429,321ZM433,275.6L434,276.6L433,277.6L432,276.6ZM532.6,275.6L533.6,276.6L532.6,277.6L531.6,276.6ZM535.3,320L536.3,321L535.3,322L534.3,321ZM574,320L575,321L574,322L573,321ZM576.6,365L577.6,366L576.6,367L575.6,366Z" fill="#ffff00" fill-rule="nonzero" stroke="none"/>
<path d="M576.05,366L578.85,321L579.95,321L577.15,366ZM579.95,321L582.75,366L581.65,366L578.85,321ZM576.6,365.45L577.15,366L576.6,366.55L576.05,366ZM579.4,320.45L579.95,321L579.4,321.55L578.85,321ZM582.2,365.45L582.75,366L582.2,366.55L581.65,366Z" fill="#ffff00" fill-rule="nonzero" stroke="none"/>
<path d="M582.2,365L805,365L805,367L582.2,367ZM582.2,365L583.2,366L582.2,367L581.2,366ZM805,365L806,366L805,367L804,366Z" fill="#ffff00" fill-rule="nonzero" stroke="none"/>
<polyline points="71,325.5 805,325.5" fill="none" stroke="#ff00ff" stroke-width="1" />
</g>
<g shape-rendering="crispEdges">
<rect x="28" y="40" width="1" height="327" fill="#228b22"/>
<rect x="26" y="365" width="4" height="1" fill="#228b22"/>
<rect x="26" y="347" width="4" height="1" fill="#228b22"/>
<rect x="26" y="330" width="4" height="1" fill="#228b22"/>
<rect x="26" y="313" width="4" height="1" fill="#228b22"/>
<rect x="26" y="296" width="4" height="1" fill="#228b22"/>
<rect x="26" y="278" width="4" height="1" fill="#228b22"/>
<rect x="26" y="261" width="4" height="1" fill="#228b22"/>
<rect x="26" y="244" width="4" height="1" fill="#228b22"/>
<rect x="26" y="227" width="4" height="1" fill="#228b22"/>
<rect x="26" y="210" width="4" height="1" fill="#228b22"/>
<rect x="26" y="192" width="4" height="1" fill="#228b22"/>
<rect x="26" y="175" width="4" height="1" fill="#228b22"/>
<rect x="26" y="158" width="4" height="1" fill="#228b22"/>
<rect x="26" y="141" width="4" height="1" fill="#228b22"/>
<rect x="26" y="123" width="4" height="1" fill="#228b22"/>
<rect x="26" y="106" width="4" height="1" fill="#228b22"/>
<rect x="26" y="89" width="4" height="1" fill="#228b22"/>
<rect x="26" y="72" width="4" height="1" fill="#228b22"/>
<rect x="26" y="55" width="4" height="1" fill="#228b22"/>
<rect x="50" y="40" width="1" height="327" fill="#9400d3"/>
<rect x="48" y="365" width="4" height="1" fill="#9400d3"/>
<rect x="48" y="334" width="4" height="1" fill="#9400d3"/>
<rect x="48" y="303" width="4" height="1" fill="#9400d3"/>
<rect x="48" y="272" width="4" height="1" fill="#9400d3"/>
<rect x="48" y="241" width="4" height="1" fill="#9400d3"/>
<rect x="48" y="210" width="4" height="1" fill="#9400d3"/>
<rect x="48" y="179" width="4" height="1" fill="#9400d3"/>
<rect x="48" y="148" width="4" height="1" fill="#9400d3"/>
<rect x="48" y="117" width="4" height="1" fill="#9400d3"/>
<rect x="48" y="86" width="4" height="1" fill="#9400d3"/>
<rect x="48" y="55" width="4" height="1" fill="#9400d3"/>
<rect x="70" y="40" width="1" height="326" fill="#ff0000"/>
<rect x="68" y="365" width="4" height="1" fill="#ff0000"/>
<rect x="68" y="345" width="4" height="1" fill="#ff0000"/>
<rect x="68" y="325" width="4" height="1" fill="#ff0000"/>
<rect x="68" y="305" width="4" height="1" fill="#ff0000"/>
<rect x="68" y="285" width="4" height="1" fill="#ff0000"/>
<rect x="68" y="265" width="4" height="1" fill="#ff0000"/>
<rect x="68" y="245" width="4" height="1" fill="#ff0000"/>
<rect x="68" y="225" width="4" height="1" fill="#ff0000"/>
<rect x="68" y="205" width="4" height="1" fill="#ff0000"/>
<rect x="68" y="185" width="4" height="1" fill="#ff0000"/>
<rect x="68" y="165" width="4" height="1" fill="#ff0000"/>
<rect x="68" y="145" width="4" height="1" fill="#ff0000"/>
<rect x="68" y="125" width="4" height="1" fill="#ff0000"/>
<rect x="68" y="105" width="4" height="1" fill="#ff0000"/>
<rect x="68" y="85" width="4" height="1" fill="#ff0000"/>
<rect x="68" y="65" width="4" height="1" fill="#ff0000"/>
<rect x="805" y="40" width="1" height="326" fill="#696969"/>
<rect x="805" y="365" width="2" height="1" fill="#696969"/>
<rect x="805" y="326" width="2" height="1" fill="#696969"/>
<rect x="805" y="287" width="2" height="1" fill="#696969"/>
<rect x="805" y="248" width="2" height="1" fill="#696969"/>
<rect x="805" y="210" width="2" height="1" fill="#696969"/>
<rect x="805" y="171" width="2" height="1" fill="#696969"/>
<rect x="805" y="132" width="2" height="1" fill="#696969"/>
<rect x="805" y="93" width="2" height="1" fill="#696969"/>
<rect x="805" y="55" width="2" height="1" fill="#696969"/>
<rect x="825" y="40" width="1" height="327" fill="#000000"/>
<rect x="823" y="365" width="4" height="1" fill="#000000"/>
<rect x="823" y="330" width="4" height="1" fill="#000000"/>
<rect x="823" y="296" width="4" height="1" fill="#000000"/>
<rect x="823" y="261" width="4" height="1" fill="#000000"/>
<rect x="823" y="227" width="4" height="1" fill="#000000"/>
<rect x="823" y="192" width="4" height="1" fill="#000000"/>
<rect x="823" y="158" width="4" height="1" fill="#000000"/>
<rect x="823" y="123" width="4" height="1" fill="#000000"/>
<rect x="823" y="89" width="4" height="1" fill="#000000"/>
<rect x="823" y="55" width="4" height="1" fill="#000000"/>
<rect x="845" y="40" width="1" height="327" fill="#00bfff"/>
<rect x="843" y="365" width="4" height="1" fill="#00bfff"/>
<rect x="843" y="55" width="4" height="1" fill="#00bfff"/>
<rect x="860" y="40" width="1" height="327" fill="#ffff00"/>
<rect x="858" y="365" width="4" height="1" fill="#ffff00"/>
<rect x="858" y="320" width="4" height="1" fill="#ffff00"/>
<rect x="858" y="276" width="4" height="1" fill="#ffff00"/>
<rect x="858" y="232" width="4" height="1" fill="#ffff00"/>
<rect x="858" y="187" width="4" height="1" fill="#ffff00"/>
<rect x="858" y="143" width="4" height="1" fill="#ffff00"/>
<rect x="858" y="99" width="4" height="1" fill="#ffff00"/>
<rect x="858" y="55" width="4" height="1" fill="#ffff00"/>
<rect x="875" y="40" width="1" height="327" fill="#ff7f00"/>
<rect x="873" y="365" width="4" height="1" fill="#ff7f00"/>
<rect x="873" y="349" width="4" height="1" fill="#ff7f00"/>
<rect x="873" y="334" width="4" height="1" fill="#ff7f00"/>
<rect x="873" y="318" width="4" height="1" fill="#ff7f00"/>
<rect x="873" y="303" width="4" height="1" fill="#ff7f00"/>
<rect x="873" y="287" width="4" height="1" fill="#ff7f00"/>
<rect x="873" y="272" width="4" height="1" fill="#ff7f00"/>
<rect x="873" y="256" width="4" height="1" fill="#ff7f00"/>
<rect x="873" y="241" width="4" height="1" fill="#ff7f00"/>
<rect x="873" y="225" width="4" height="1" fill="#ff7f00"/>
<rect x="873" y="210" width="4" height="1" fill="#ff7f00"/>
<rect x="70" y="365" width="736" height="1" fill="#000000"/>
<rect x="71" y="366" width="311" height="1" fill="#ffff00"/>
<rect x="382" y="366" width="200" height="1" fill="#00bfff"/>
<rect x="582" y="366" width="223" height="1" fill="#ffff00"/>
<rect x="83" y="367" width="1" height="1" fill="#000000"/>
<rect x="97" y="367" width="1" height="1" fill="#000000"/>
<rect x="111" y="367" width="1" height="1" fill="#000000"/>
<rect x="125" y="367" width="1" height="1" fill="#000000"/>
<rect x="138" y="367" width="1" height="1" fill="#000000"/>
<rect x="152" y="367" width="1" height="1" fill="#000000"/>
<rect x="166" y="367" width="1" height="1" fill="#000000"/>
<rect x="180" y="367" width="1" height="1" fill="#000000"/>
<rect x="193" y="367" width="1" height="1" fill="#000000"/>
<rect x="207" y="367" width="1" height="1" fill="#000000"/>
<rect x="221" y="367" width="1" height="1" fill="#000000"/>
<rect x="235" y="367" width="1" height="1" fill="#000000"/>
<rect x="248" y="367" width="1" height="1" fill="#000000"/>
<rect x="262" y="367" width="1" height="1" fill="#000000"/>
<rect x="276" y="367" width="1" height="1" fill="#000000"/>
<rect x="290" y="367" width="1" height="1" fill="#000000"/>
<rect x="303" y="367" width="1" height="1" fill="#000000"/>
<rect x="317" y="367" width="1" height="1" fill="#000000"/>
<rect x="331" y="367" width="1" height="1" fill="#000000"/>
<rect x="345" y="367" width="1" height="1" fill="#000000"/>
<rect x="359" y="367" width="1" height="1" fill="#000000"/>
<rect x="372" y="367" width="1" height="1" fill="#000000"/>
<rect x="386" y="367" width="1" height="1" fill="#000000"/>
<rect x="400" y="367" width="1" height="1" fill="#000000"/>
<rect x="414" y="367" width="1" height="1" fill="#000000"/>
<rect x="427" y="367" width="1" height="1" fill="#000000"/>
<rect x="441" y="367" width="1" height="1" fill="#000000"/>
<rect x="455" y="367" width="1" height="1" fill="#000000"/>
<rect x="469" y="367" width="1" height="1" fill="#000000"/>
<rect x="482" y="367" width="1" height="1" fill="#000000"/>
<rect x="496" y="367" width="1" height="1" fill="#000000"/>
<rect x="510" y="367" width="1" height="1" fill="#000000"/>
<rect x="524" y="367" width="1" height="1" fill="#000000"/>
<rect x="537" y="367" width="1" height="1" fill="#000000"/>
<rect x="551" y="367" width="1" height="1" fill="#000000"/>
<rect x="565" y="367" width="1" height="1" fill="#000000"/>
<rect x="579" y="367" width="1" height="1" fill="#000000"/>
<rect x="593" y="367" width="1" height="1" fill="#000000"/>
<rect x="606" y="367" width="1" height="1" fill="#000000"/>
<rect x="620" y="367" width="1" height="1" fill="#000000"/>
<rect x="634" y="367" width="1" height="1" fill="#000000"/>
<rect x="648" y="367" width="1" height="1" fill="#000000"/>
<rect x="661" y="367" width="1" height="1" fill="#000000"/>
<rect x="675" y="367" width="1" height="1" fill="#000000"/>
<rect x="689" y="367" width="1" height="1" fill="#000000"/>
<rect x="703" y="367" width="1" height="1" fill="#000000"/>
<rect x="716" y="367" width="1" height="1" fill="#000000"/>
<rect x="730" y="367" width="1" height="1" fill="#000000"/>
<rect x="744" y="367" width="1" height="1" fill="#000000"/>
<rect x="758" y="367" width="1" height="1" fill="#000000"/>
<rect x="771" y="367" width="1" height="1" fill="#000000"/>
<rect x="785" y="367" width="1" height="1" fill="#000000"/>
<rect x="799" y="367" width="1" height="1" fill="#000000"/>
<rect x="0" y="0" width="900" height="1" fill="#000000"/>
<rect x="0" y="0" width="1" height="400" fill="#000000"/>
<rect x="0" y="399" width="900" height="1" fill="#000000"/>
<rect x="899" y="0" width="1" height="400" fill="#000000"/>
</g>
<text class="t s" x="3" y="369" fill="#228b22" stroke="#228b22" textLength="19.4" lengthAdjust="spacingAndGlyphs">1014</text>
<text class="t s" x="3" y="351" fill="#228b22" stroke="#228b22" textLength="19.4" lengthAdjust="spacingAndGlyphs">1015</text>
<text class="t s" x="3" y="334" fill="#228b22" stroke="#228b22" textLength="19.4" lengthAdjust="spacingAndGlyphs">1016</text>
<text class="t s" x="3" y="317" fill="#228b22" stroke="#228b22" textLength="19.4" lengthAdjust="spacingAndGlyphs">1017</text>
<text class="t s" x="3" y="300" fill="#228b22" stroke="#228b22" textLength="19.4" lengthAdjust="spacingAndGlyphs">1018</text>
<text class="t s" x="3" y="282" fill="#228b22" stroke="#228b22" textLength="19.4" lengthAdjust="spacingAndGlyphs">1019</text>
<text class="t s" x="3" y="265" fill="#228b22" stroke="#228b22" textLength="19.4" lengthAdjust="spacingAndGlyphs">1020</text>
<text class="t s" x="3" y="248" fill="#228b22" stroke="#228b22" textLength="19.4" lengthAdjust="spacingAndGlyphs">1021</text>
<text class="t s" x="3" y="231" fill="#228b22" stroke="#228b22" textLength="19.4" lengthAdjust="spacingAndGlyphs">1022</text>
<text class="t s" x="3" y="214" fill="#228b22" stroke="#228b22" textLength="19.4" lengthAdjust="spacingAndGlyphs">1023</text>
<text class="t s" x="3" y="196" fill="#228b22" stroke="#228b22" textLength="19.4" lengthAdjust="spacingAndGlyphs">1024</text>
<text class="t s" x="3" y="179" fill="#228b22" stroke="#228b22" textLength="19.4" lengthAdjust="spacingAndGlyphs">1025</text>
<text class="t s" x="3" y="162" fill="#228b22" stroke="#228b22" textLength="19.4" lengthAdjust="spacingAndGlyphs">1026</text>
<text class="t s" x="3" y="145" fill="#228b22" stroke="#228b22" textLength="19.4" lengthAdjust="spacingAndGlyphs">1027</text>
<text class="t s" x="3" y="127" fill="#228b22" stroke="#228b22" textLength="19.4" lengthAdjust="spacingAndGlyphs">1028</text>
<text class="t s" x="3" y="110" fill="#228b22" stroke="#228b22" textLength="19.4" lengthAdjust="spacingAndGlyphs">1029</text>
<text class="t s" x="3" y="93" fill="#228b22" stroke="#228b22" textLength="19.4" lengthAdjust="spacingAndGlyphs">1030</text>
<text class="t s" x="3" y="76" fill="#228b22" stroke="#228b22" textLength="19.4" lengthAdjust="spacingAndGlyphs">1031</text>
<text class="t s" x="3" y="59" fill="#228b22" stroke="#228b22" textLength="19.4" lengthAdjust="spacingAndGlyphs">1032</text>
<text class="t s" x="40" y="369" fill="#9400d3" stroke="#9400d3" textLength="4.4" lengthAdjust="spacingAndGlyphs">0</text>
<text class="t s" x="35" y="338" fill="#9400d3" stroke="#9400d3" textLength="9.4" lengthAdjust="spacingAndGlyphs">10</text>
<text class="t s" x="35" y="307" fill="#9400d3" stroke="#9400d3" textLength="9.4" lengthAdjust="spacingAndGlyphs">20</text>
<text class="t s" x="35" y="276" fill="#9400d3" stroke="#9400d3" textLength="9.4" lengthAdjust="spacingAndGlyphs">30</text>
<text class="t s" x="35" y="245" fill="#9400d3" stroke="#9400d3" textLength="9.4" lengthAdjust="spacingAndGlyphs">40</text>
<text class="t s" x="35" y="214" fill="#9400d3" stroke="#9400d3" textLength="9.4" lengthAdjust="spacingAndGlyphs">50</text>
<text class="t s" x="35" y="183" fill="#9400d3" stroke="#9400d3" textLength="9.4" lengthAdjust="spacingAndGlyphs">60</text>
<text class="t s" x="35" y="152" fill="#9400d3" stroke="#9400d3" textLength="9.4" lengthAdjust="spacingAndGlyphs">70</text>
<text class="t s" x="35" y="121" fill="#9400d3" stroke="#9400d3" textLength="9.4" lengthAdjust="spacingAndGlyphs">80</text>
<text class="t s" x="35" y="90" fill="#9400d3" stroke="#9400d3" textLength="9.4" lengthAdjust="spacingAndGlyphs">90</text>
<text class="t s" x="30" y="59" fill="#9400d3" stroke="#9400d3" textLength="14.4" lengthAdjust="spacingAndGlyphs">100</text>
<text class="t s" x="57" y="369" fill="#ff0000" stroke="#ff0000" textLength="9.4" lengthAdjust="spacingAndGlyphs">-4</text>
<text class="t s" x="57" y="349" fill="#ff0000" stroke="#ff0000" textLength="9.4" lengthAdjust="spacingAndGlyphs">-2</text>
<text class="t s" x="62" y="329" fill="#ff0000" stroke="#ff0000" textLength="4.4" lengthAdjust="spacingAndGlyphs">0</text>
<text class="t s" x="62" y="309" fill="#ff0000" stroke="#ff0000" textLength="4.4" lengthAdjust="spacingAndGlyphs">2</text>
<text class="t s" x="62" y="289" fill="#ff0000" stroke="#ff0000" textLength="4.4" lengthAdjust="spacingAndGlyphs">4</text>
<text class="t s" x="62" y="269" fill="#ff0000" stroke="#ff0000" textLength="4.4" lengthAdjust="spacingAndGlyphs">6</text>
<text class="t s" x="62" y="249" fill="#ff0000" stroke="#ff0000" textLength="4.4" lengthAdjust="spacingAndGlyphs">8</text>
<text class="t s" x="57" y="229" fill="#ff0000" stroke="#ff0000" textLength="9.4" lengthAdjust="spacingAndGlyphs">10</text>
<text class="t s" x="57" y="209" fill="#ff0000" stroke="#ff0000" textLength="9.4" lengthAdjust="spacingAndGlyphs">12</text>
<text class="t s" x="57" y="189" fill="#ff0000" stroke="#ff0000" textLength="9.4" lengthAdjust="spacingAndGlyphs">14</text>
<text class="t s" x="57" y="169" fill="#ff0000" stroke="#ff0000" textLength="9.4" lengthAdjust="spacingAndGlyphs">16</text>
<text class="t s" x="57" y="149" fill="#ff0000" stroke="#ff0000" textLength="9.4" lengthAdjust="spacingAndGlyphs">18</text>
<text class="t s" x="57" y="129" fill="#ff0000" stroke="#ff0000" textLength="9.4" lengthAdjust="spacingAndGlyphs">20</text>
<text class="t s" x="57" y="109" fill="#ff0000" stroke="#ff0000" textLength="9.4" lengthAdjust="spacingAndGlyphs">22</text>
<text class="t s" x="57" y="89" fill="#ff0000" stroke="#ff0000" textLength="9.4" lengthAdjust="spacingAndGlyphs">24</text>
<text class="t s" x="57" y="69" fill="#ff0000" stroke="#ff0000" textLength="9.4" lengthAdjust="spacingAndGlyphs">26</text>
<text class="t" x="6" y="48" fill="#228b22" stroke="#228b22" textLength="14.4" lengthAdjust="spacingAndGlyphs">hPa</text>
<text class="t" x="40" y="48" fill="#9400d3" stroke="#9400d3" textLength="4.4" lengthAdjust="spacingAndGlyphs">%</text>
<text class="t" x="57" y="48" fill="#ff0000" stroke="#ff0000" textLength="9.4" lengthAdjust="spacingAndGlyphs">°C</text>
<text class="g s" x="808" y="330" fill="#696969" stroke="#696969" textLength="9.4" lengthAdjust="spacingAndGlyphs">45</text>
<text class="g" x="808" y="340" fill="#696969" stroke="#696969" textLength="9.4" lengthAdjust="spacingAndGlyphs">NE</text>
<text class="g s" x="808" y="291" fill="#696969" stroke="#696969" textLength="9.4" lengthAdjust="spacingAndGlyphs">90</text>
<text class="g" x="813" y="301" fill="#696969" stroke="#696969" textLength="4.4" lengthAdjust="spacingAndGlyphs">E</text>
<text class="g s" x="808" y="252" fill="#696969" stroke="#696969" textLength="14.4" lengthAdjust="spacingAndGlyphs">135</text>
<text class="g" x="808" y="262" fill="#696969" stroke="#696969" textLength="9.4" lengthAdjust="spacingAndGlyphs">SE</text>
<text class="g s" x="808" y="214" fill="#696969" stroke="#696969" textLength="14.4" lengthAdjust="spacingAndGlyphs">180</text>
<text class="g" x="813" y="224" fill="#696969" stroke="#696969" textLength="4.4" lengthAdjust="spacingAndGlyphs">S</text>
<text class="g s" x="808" y="175" fill="#696969" stroke="#696969" textLength="14.4" lengthAdjust="spacingAndGlyphs">225</text>
<text class="g" x="808" y="185" fill="#696969" stroke="#696969" textLength="9.4" lengthAdjust="spacingAndGlyphs">SW</text>
<text class="g s" x="808" y="136" fill="#696969" stroke="#696969" textLength="14.4" lengthAdjust="spacingAndGlyphs">270</text>
<text class="g" x="813" y="146" fill="#696969" stroke="#696969" textLength="4.4" lengthAdjust="spacingAndGlyphs">W</text>
<text class="g s" x="808" y="97" fill="#696969" stroke="#696969" textLength="14.4" lengthAdjust="spacingAndGlyphs">315</text>
<text class="g" x="808" y="107" fill="#696969" stroke="#696969" textLength="9.4" lengthAdjust="spacingAndGlyphs">NW</text>
<text class="g s" x="808" y="59" fill="#696969" stroke="#696969" textLength="14.4" lengthAdjust="spacingAndGlyphs">360</text>
<text class="g" x="813" y="69" fill="#696969" stroke="#696969" textLength="4.4" lengthAdjust="spacingAndGlyphs">N</text>
<text class="g" x="808" y="48" fill="#696969" stroke="#696969" textLength="4.4" lengthAdjust="spacingAndGlyphs">°</text>
<text class="t s" x="828" y="369" fill="#000000" stroke="#000000" textLength="4.4" lengthAdjust="spacingAndGlyphs">0</text>
<text class="t s" x="828" y="334" fill="#000000" stroke="#000000" textLength="4.4" lengthAdjust="spacingAndGlyphs">1</text>
<text class="t s" x="828" y="300" fill="#000000" stroke="#000000" textLength="4.4" lengthAdjust="spacingAndGlyphs">2</text>
<text class="t s" x="828" y="265" fill="#000000" stroke="#000000" textLength="4.4" lengthAdjust="spacingAndGlyphs">3</text>
<text class="t s" x="828" y="231" fill="#000000" stroke="#000000" textLength="4.4" lengthAdjust="spacingAndGlyphs">4</text>
<text class="t s" x="828" y="196" fill="#000000" stroke="#000000" textLength="4.4" lengthAdjust="spacingAndGlyphs">5</text>
<text class="t s" x="828" y="162" fill="#000000" stroke="#000000" textLength="4.4" lengthAdjust="spacingAndGlyphs">6</text>
<text class="t s" x="828" y="127" fill="#000000" stroke="#000000" textLength="4.4" lengthAdjust="spacingAndGlyphs">7</text>
<text class="t s" x="828" y="93" fill="#000000" stroke="#000000" textLength="4.4" lengthAdjust="spacingAndGlyphs">8</text>
<text class="t s" x="828" y="59" fill="#000000" stroke="#000000" textLength="4.4" lengthAdjust="spacingAndGlyphs">9</text>
<text class="t" x="828" y="48" fill="#000000" stroke="#000000" textLength="14.4" lengthAdjust="spacingAndGlyphs">m/s</text>
<text class="t s" x="848" y="369" fill="#00bfff" stroke="#00bfff" textLength="4.4" lengthAdjust="spacingAndGlyphs">0</text>
<text class="t s" x="848" y="59" fill="#00bfff" stroke="#00bfff" textLength="4.4" lengthAdjust="spacingAndGlyphs">1</text>
<text class="g" x="848" y="48" fill="#00bfff" stroke="#00bfff" textLength="9.4" lengthAdjust="spacingAndGlyphs">mm</text>
<text class="g s" x="863" y="369" fill="#ffff00" stroke="#ffff00" textLength="4.4" lengthAdjust="spacingAndGlyphs">0</text>
<text class="g s" x="863" y="324" fill="#ffff00" stroke="#ffff00" textLength="4.4" lengthAdjust="spacingAndGlyphs">1</text>
<text class="g s" x="863" y="280" fill="#ffff00" stroke="#ffff00" textLength="4.4" lengthAdjust="spacingAndGlyphs">2</text>
<text class="g s" x="863" y="236" fill="#ffff00" stroke="#ffff00" textLength="4.4" lengthAdjust="spacingAndGlyphs">3</text>
<text class="g s" x="863" y="191" fill="#ffff00" stroke="#ffff00" textLength="4.4" lengthAdjust="spacingAndGlyphs">4</text>
<text class="g s" x="863" y="147" fill="#ffff00" stroke="#ffff00" textLength="4.4" lengthAdjust="spacingAndGlyphs">5</text>
<text class="g s" x="863" y="103" fill="#ffff00" stroke="#ffff00" textLength="4.4" lengthAdjust="spacingAndGlyphs">6</text>
<text class="g s" x="863" y="59" fill="#ffff00" stroke="#ffff00" textLength="4.4" lengthAdjust="spacingAndGlyphs">7</text>
<text class="g s" x="878" y="369" fill="#ff7f00" stroke="#ff7f00" textLength="4.4" lengthAdjust="spacingAndGlyphs">0</text>
<text class="g s" x="878" y="353" fill="#ff7f00" stroke="#ff7f00" textLength="14.4" lengthAdjust="spacingAndGlyphs">150</text>
<text class="g s" x="878" y="338" fill="#ff7f00" stroke="#ff7f00" textLength="14.4" lengthAdjust="spacingAndGlyphs">300</text>
<text class="g s" x="878" y="322" fill="#ff7f00" stroke="#ff7f00" textLength="14.4" lengthAdjust="spacingAndGlyphs">450</text>
<text class="g s" x="878" y="307" fill="#ff7f00" stroke="#ff7f00" textLength="14.4" lengthAdjust="spacingAndGlyphs">600</text>
<text class="g s" x="878" y="291" fill="#ff7f00" stroke="#ff7f00" textLength="14.4" lengthAdjust="spacingAndGlyphs">750</text>
<text class="g s" x="878" y="276" fill="#ff7f00" stroke="#ff7f00" textLength="14.4" lengthAdjust="spacingAndGlyphs">900</text>
<text class="g s" x="878" y="260" fill="#ff7f00" stroke="#ff7f00" textLength="19.4" lengthAdjust="spacingAndGlyphs">1050</text>
<text class="g s" x="878" y="245" fill="#ff7f00" stroke="#ff7f00" textLength="19.4" lengthAdjust="spacingAndGlyphs">1200</text>
<text class="g s" x="878" y="229" fill="#ff7f00" stroke="#ff7f00" textLength="19.4" lengthAdjust="spacingAndGlyphs">1350</text>
<text class="g s" x="878" y="214" fill="#ff7f00" stroke="#ff7f00" textLength="19.4" lengthAdjust="spacingAndGlyphs">1500</text>
<text class="t" x="878" y="48" fill="#ff7f00" stroke="#ff7f00" textLength="4.4" lengthAdjust="spacingAndGlyphs">W</text>
<text class="g" x="815" y="378" fill="#000000" stroke="#000000" textLength="14.4" lengthAdjust="spacingAndGlyphs">čas</text>
<text class="x" transform="translate(74,397) rotate(-90)" textLength="24.4" lengthAdjust="spacingAndGlyphs">00:00</text>
<text class="x" transform="translate(87,397) rotate(-90)" textLength="24.4" lengthAdjust="spacingAndGlyphs">00:25</text>
<text class="x" transform="translate(101,397) rotate(-90)" textLength="24.4" lengthAdjust="spacingAndGlyphs">00:50</text>
<text class="x" transform="translate(115,397) rotate(-90)" textLength="24.4" lengthAdjust="spacingAndGlyphs">01:15</text>
<text class="x" transform="translate(129,397) rotate(-90)" textLength="24.4" lengthAdjust="spacingAndGlyphs">01:40</text>
<text class="x" transform="translate(142,397) rotate(-90)" textLength="24.4" lengthAdjust="spacingAndGlyphs">02:05</text>
<text class="x" transform="translate(156,397) rotate(-90)" textLength="24.4" lengthAdjust="spacingAndGlyphs">02:35</text>
<text class="x" transform="translate(170,397) rotate(-90)" textLength="24.4" lengthAdjust="spacingAndGlyphs">03:00</text>
<text class="x" transform="translate(184,397) rotate(-90)" textLength="24.4" lengthAdjust="spacingAndGlyphs">03:35</text>
<text class="x" transform="translate(197,397) rotate(-90)" textLength="24.4" lengthAdjust="spacingAndGlyphs">04:00</text>
<text class="x" transform="translate(211,397) rotate(-90)" textLength="24.4" lengthAdjust="spacingAndGlyphs">04:25</text>
<text class="x" transform="translate(225,397) rotate(-90)" textLength="24.4" lengthAdjust="spacingAndGlyphs">04:50</text>
<text class="x" transform="translate(239,397) rotate(-90)" textLength="24.4" lengthAdjust="spacingAndGlyphs">05:15</text>
<text class="x" transform="translate(252,397) rotate(-90)" textLength="24.4" lengthAdjust="spacingAndGlyphs">05:40</text>
<text class="x" transform="translate(266,397) rotate(-90)" textLength="24.4" lengthAdjust="spacingAndGlyphs">06:05</text>
<text class="x" transform="translate(280,397) rotate(-90)" textLength="24.4" lengthAdjust="spacingAndGlyphs">06:30</text>
<text class="x" transform="translate(294,397) rotate(-90)" textLength="24.4" lengthAdjust="spacingAndGlyphs">06:55</text>
<text class="x" transform="translate(307,397) rotate(-90)" textLength="24.4" lengthAdjust="spacingAndGlyphs">07:20</text>
<text class="x" transform="translate(321,397) rotate(-90)" textLength="24.4" lengthAdjust="spacingAndGlyphs">07:45</text>
<text class="x" transform="translate(335,397) rotate(-90)" textLength="24.4" lengthAdjust="spacingAndGlyphs">08:10</text>
<text class="x" transform="translate(349,397) rotate(-90)" textLength="24.4" lengthAdjust="spacingAndGlyphs">08:35</text>
<text class="x" transform="translate(363,397) rotate(-90)" textLength="24.4" lengthAdjust="spacingAndGlyphs">09:00</text>
<text class="x" transform="translate(376,397) rotate(-90)" textLength="24.4" lengthAdjust="spacingAndGlyphs">09:25</text>
<text class="x" transform="translate(390,397) rotate(-90)" textLength="24.4" lengthAdjust="spacingAndGlyphs">09:50</text>
<text class="x" transform="translate(404,397) rotate(-90)" textLength="24.4" lengthAdjust="spacingAndGlyphs">10:15</text>
<text class="x" transform="translate(418,397) rotate(-90)" textLength="24.4" lengthAdjust="spacingAndGlyphs">10:40</text>
<text class="x" transform="translate(431,397) rotate(-90)" textLength="24.4" lengthAdjust="spacingAndGlyphs">11:05</text>
<text class="x" transform="translate(445,397) rotate(-90)" textLength="24.4" lengthAdjust="spacingAndGlyphs">11:30</text>
<text class="x" transform="translate(459,397) rotate(-90)" textLength="24.4" lengthAdjust="spacingAndGlyphs">11:55</text>
<text class="x" transform="translate(473,397) rotate(-90)" textLength="24.4" lengthAdjust="spacingAndGlyphs">12:20</text>
<text class="x" transform="translate(486,397) rotate(-90)" textLength="24.4" lengthAdjust="spacingAndGlyphs">12:45</text>
<text class="x" transform="translate(500,397) rotate(-90)" textLength="24.4" lengthAdjust="spacingAndGlyphs">13:10</text>
<text class="x" transform="translate(514,397) rotate(-90)" textLength="24.4" lengthAdjust="spacingAndGlyphs">13:35</text>
<text class="x" transform="translate(528,397) rotate(-90)" textLength="24.4" lengthAdjust="spacingAndGlyphs">14:00</text>
<text class="x" transform="translate(541,397) rotate(-90)" textLength="24.4" lengthAdjust="spacingAndGlyphs">14:25</text>
<text class="x" transform="translate(555,397) rotate(-90)" textLength="24.4" lengthAdjust="spacingAndGlyphs">14:50</text>
<text class="x" transform="translate(569,397) rotate(-90)" textLength="24.4" lengthAdjust="spacingAndGlyphs">15:15</text>
<text class="x" transform="translate(583,397) rotate(-90)" textLength="24.4" lengthAdjust="spacingAndGlyphs">15:40</text>
<text class="x" transform="translate(597,397) rotate(-90)" textLength="24.4" lengthAdjust="spacingAndGlyphs">16:05</text>
<text class="x" transform="translate(610,397) rotate(-90)" textLength="24.4" lengthAdjust="spacingAndGlyphs">16:30</text>
<text class="x" transform="translate(624,397) rotate(-90)" textLength="24.4" lengthAdjust="spacingAndGlyphs">16:55</text>
<text class="x" transform="translate(638,397) rotate(-90)" textLength="24.4" lengthAdjust="spacingAndGlyphs">17:20</text>
<text class="x" transform="translate(652,397) rotate(-90)" textLength="24.4" lengthAdjust="spacingAndGlyphs">17:45</text>
<text class="x" transform="translate(665,397) rotate(-90)" textLength="24.4" lengthAdjust="spacingAndGlyphs">18:15</text>
<text class="x" transform="translate(679,397) rotate(-90)" textLength="24.4" lengthAdjust="spacingAndGlyphs">18:40</text>
<text class="x" transform="translate(693,397) rotate(-90)" textLength="24.4" lengthAdjust="spacingAndGlyphs">19:05</text>
<text class="x" transform="translate(707,397) rotate(-90)" textLength="24.4" lengthAdjust="spacingAndGlyphs">19:40</text>
<text class="x" transform="translate(720,397) rotate(-90)" textLength="24.4" lengthAdjust="spacingAndGlyphs">21:05</text>
<text class="x" transform="translate(734,397) rotate(-90)" textLength="24.4" lengthAdjust="spacingAndGlyphs">21:30</text>
<text class="x" transform="translate(748,397) rotate(-90)" textLength="24.4" lengthAdjust="spacingAndGlyphs">21:55</text>
<text class="x" transform="translate(762,397) rotate(-90)" textLength="24.4" lengthAdjust="spacingAndGlyphs">22:25</text>
<text class="x" transform="translate(775,397) rotate(-90)" textLength="24.4" lengthAdjust="spacingAndGlyphs">22:50</text>
<text class="x" transform="translate(789,397) rotate(-90)" textLength="24.4" lengthAdjust="spacingAndGlyphs">23:15</text>
<text class="x" transform="translate(803,397) rotate(-90)" textLength="24.4" lengthAdjust="spacingAndGlyphs">23:45</text>
<g shape-rendering="crispEdges">
<rect x="10" y="9" width="11" height="2" fill="#ff0000"/>
<rect x="70" y="9" width="11" height="2" fill="#ff00ff"/>
<rect x="175" y="9" width="11" height="2" fill="#9400d3"/>
<rect x="235" y="9" width="11" height="2" fill="#228b22"/>
<rect x="280" y="9" width="11" height="2" fill="#00bfff"/>
<rect x="335" y="9" width="11" height="2" fill="#000000"/>
<rect x="430" y="9" width="11" height="2" fill="#0000cd"/>
<rect x="510" y="9" width="11" height="2" fill="#696969"/>
<rect x="585" y="9" width="11" height="2" fill="#ffff00"/>
<rect x="650" y="9" width="11" height="2" fill="#ff7f00"/>
</g>
<text class="t" x="25" y="13" fill="#000000" stroke="#000000" textLength="34.4" lengthAdjust="spacingAndGlyphs">Teplota</text>
<text class="t" x="85" y="13" fill="#000000" stroke="#000000" textLength="79.4" lengthAdjust="spacingAndGlyphs">Přízemní teplota</text>
<text class="t" x="190" y="13" fill="#000000" stroke="#000000" textLength="34.4" lengthAdjust="spacingAndGlyphs">Vlhkost</text>
<text class="t" x="250" y="13" fill="#000000" stroke="#000000" textLength="19.4" lengthAdjust="spacingAndGlyphs">Tlak</text>
<text class="t" x="295" y="13" fill="#000000" stroke="#000000" textLength="29.4" lengthAdjust="spacingAndGlyphs">Srážky</text>
<text class="t" x="350" y="13" fill="#000000" stroke="#000000" textLength="69.4" lengthAdjust="spacingAndGlyphs">Rychlost větru</text>
<text class="t" x="445" y="13" fill="#000000" stroke="#000000" textLength="54.4" lengthAdjust="spacingAndGlyphs">Náraz větru</text>
<text class="t" x="525" y="13" fill="#000000" stroke="#000000" textLength="49.4" lengthAdjust="spacingAndGlyphs">Směr větru</text>
<text class="g" x="600" y="13" fill="#ffff00" stroke="#ffff00" textLength="39.4" lengthAdjust="spacingAndGlyphs">UV index</text>
<text class="g" x="665" y="13" fill="#ff7f00" stroke="#ff7f00" textLength="24.4" lengthAdjust="spacingAndGlyphs">Solar</text>
<text class="t" x="80" y="28" fill="#000000" stroke="#000000" textLength="14.4" lengthAdjust="spacingAndGlyphs">max</text>
<text class="t s" x="100" y="28" fill="#ff0000" stroke="#ff0000" textLength="29.4" lengthAdjust="spacingAndGlyphs">22.1°C</text>
<text class="t" x="140" y="28" fill="#ff0000" stroke="#ff0000" textLength="14.4" lengthAdjust="spacingAndGlyphs">98%</text>
<text class="t s" x="165" y="28" fill="#ff0000" stroke="#ff0000" textLength="44.4" lengthAdjust="spacingAndGlyphs">1025.2hPa</text>
<text class="g s" x="225" y="28" fill="#00bfff" stroke="#00bfff" textLength="24.4" lengthAdjust="spacingAndGlyphs">0.0mm</text>
<text class="t" x="80" y="38" fill="#000000" stroke="#000000" textLength="14.4" lengthAdjust="spacingAndGlyphs">min</text>
<text class="t s" x="105" y="38" fill="#0000cd" stroke="#0000cd" textLength="24.4" lengthAdjust="spacingAndGlyphs">6.7°C</text>
<text class="t" x="140" y="38" fill="#0000cd" stroke="#0000cd" textLength="14.4" lengthAdjust="spacingAndGlyphs">39%</text>
<text class="t s" x="165" y="38" fill="#0000cd" stroke="#0000cd" textLength="44.4" lengthAdjust="spacingAndGlyphs">1021.2hPa</text>
<text class="t" x="80" y="48" fill="#000000" stroke="#000000" textLength="14.4" lengthAdjust="spacingAndGlyphs">avg</text>
<text class="t s" x="100" y="48" fill="#000000" stroke="#000000" textLength="29.4" lengthAdjust="spacingAndGlyphs">13.8°C</text>
<text class="t s" x="500" y="28" fill="#000000" stroke="#000000" textLength="44.4" lengthAdjust="spacingAndGlyphs">WS:2.2m/s</text>
<text class="t s" x="570" y="28" fill="#000000" stroke="#000000" textLength="44.4" lengthAdjust="spacingAndGlyphs">WG:3.5m/s</text>
<text class="t s" x="500" y="38" fill="#000000" stroke="#000000" textLength="59.4" lengthAdjust="spacingAndGlyphs">Východ:06:40</text>
<text class="t s" x="570" y="38" fill="#000000" stroke="#000000" textLength="54.4" lengthAdjust="spacingAndGlyphs">Západ:18:52</text>
<text class="d" style="font-family:'Liberation Sans',sans-serif" x="415" y="51" textLength="70" lengthAdjust="spacingAndGlyphs">22.09.2010</text>
<circle cx="281.5" cy="360.5" r="4" fill="#ffff00" stroke="#000" stroke-width="1.25"/>
<circle cx="681.5" cy="360.5" r="4" fill="#ffff00" stroke="#000" stroke-width="1.25"/>
</svg></body></html>
